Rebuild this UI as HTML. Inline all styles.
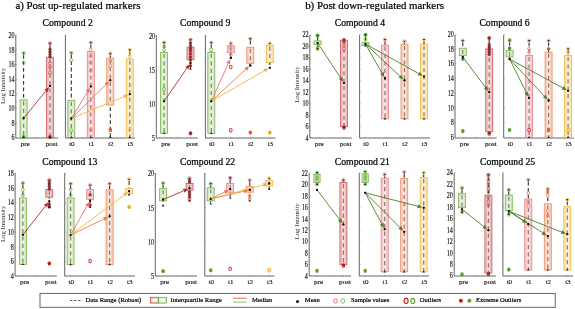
<!DOCTYPE html>
<html><head><meta charset="utf-8"><style>
html,body{margin:0;padding:0;background:#fff;width:575px;height:309px;overflow:hidden}
svg{display:block;filter:blur(0.3px)}
.tk{font-family:"Liberation Serif",serif;font-size:7.1px;fill:#1a1a1a;stroke:#1a1a1a;stroke-width:0.15px}
.ct{font-family:"Liberation Serif",serif;font-size:9.7px;fill:#000;stroke:#000;stroke-width:0.22px}
.mt{font-family:"Liberation Serif",serif;font-size:10.85px;fill:#000;stroke:#000;stroke-width:0.22px}
.tky{font-family:"Liberation Serif",serif;font-size:7.6px;fill:#1a1a1a;stroke:#1a1a1a;stroke-width:0.18px}
.yl{font-family:"Liberation Serif",serif;font-size:6.8px;fill:#333}
.lg{font-family:"Liberation Serif",serif;font-size:6.6px;fill:#000;stroke:#000;stroke-width:0.2px}
</style></head><body>
<svg width="575" height="309" viewBox="0 0 575 309">
<rect width="575" height="309" fill="#fff"/>
<line x1="15.8" y1="35.0" x2="15.8" y2="138.0" stroke="#555" stroke-width="0.9"/>
<line x1="15.8" y1="138.0" x2="58.3" y2="138.0" stroke="#555" stroke-width="0.9"/>
<line x1="15.8" y1="137.6" x2="17.0" y2="137.6" stroke="#888" stroke-width="0.6"/>
<text transform="translate(14.5,140.35) scale(0.8,1)" text-anchor="end" class="tky">6</text>
<line x1="15.8" y1="122.97" x2="17.0" y2="122.97" stroke="#888" stroke-width="0.6"/>
<text transform="translate(14.5,125.72) scale(0.8,1)" text-anchor="end" class="tky">8</text>
<line x1="15.8" y1="108.34" x2="17.0" y2="108.34" stroke="#888" stroke-width="0.6"/>
<text transform="translate(14.5,111.09) scale(0.8,1)" text-anchor="end" class="tky">10</text>
<line x1="15.8" y1="93.71" x2="17.0" y2="93.71" stroke="#888" stroke-width="0.6"/>
<text transform="translate(14.5,96.46) scale(0.8,1)" text-anchor="end" class="tky">12</text>
<line x1="15.8" y1="79.09" x2="17.0" y2="79.09" stroke="#888" stroke-width="0.6"/>
<text transform="translate(14.5,81.84) scale(0.8,1)" text-anchor="end" class="tky">14</text>
<line x1="15.8" y1="64.46" x2="17.0" y2="64.46" stroke="#888" stroke-width="0.6"/>
<text transform="translate(14.5,67.21) scale(0.8,1)" text-anchor="end" class="tky">16</text>
<line x1="15.8" y1="49.83" x2="17.0" y2="49.83" stroke="#888" stroke-width="0.6"/>
<text transform="translate(14.5,52.58) scale(0.8,1)" text-anchor="end" class="tky">18</text>
<line x1="15.8" y1="35.2" x2="17.0" y2="35.2" stroke="#888" stroke-width="0.6"/>
<text transform="translate(14.5,37.95) scale(0.8,1)" text-anchor="end" class="tky">20</text>
<line x1="23.6" y1="138.0" x2="23.6" y2="136.8" stroke="#888" stroke-width="0.6"/>
<text x="25.200000000000003" y="145.8" text-anchor="middle" class="tk">pre</text>
<line x1="50.0" y1="138.0" x2="50.0" y2="136.8" stroke="#888" stroke-width="0.6"/>
<text x="51.6" y="145.8" text-anchor="middle" class="tk">post</text>
<line x1="36.8" y1="138.0" x2="36.8" y2="136.8" stroke="#888" stroke-width="0.6"/>
<line x1="65.4" y1="35.0" x2="65.4" y2="138.0" stroke="#555" stroke-width="0.9"/>
<line x1="65.4" y1="138.0" x2="135.1" y2="138.0" stroke="#555" stroke-width="0.9"/>
<line x1="65.4" y1="137.6" x2="66.60000000000001" y2="137.6" stroke="#888" stroke-width="0.6"/>
<line x1="65.4" y1="122.97" x2="66.60000000000001" y2="122.97" stroke="#888" stroke-width="0.6"/>
<line x1="65.4" y1="108.34" x2="66.60000000000001" y2="108.34" stroke="#888" stroke-width="0.6"/>
<line x1="65.4" y1="93.71" x2="66.60000000000001" y2="93.71" stroke="#888" stroke-width="0.6"/>
<line x1="65.4" y1="79.09" x2="66.60000000000001" y2="79.09" stroke="#888" stroke-width="0.6"/>
<line x1="65.4" y1="64.46" x2="66.60000000000001" y2="64.46" stroke="#888" stroke-width="0.6"/>
<line x1="65.4" y1="49.83" x2="66.60000000000001" y2="49.83" stroke="#888" stroke-width="0.6"/>
<line x1="65.4" y1="35.2" x2="66.60000000000001" y2="35.2" stroke="#888" stroke-width="0.6"/>
<line x1="71.30000000000001" y1="138.0" x2="71.30000000000001" y2="136.8" stroke="#888" stroke-width="0.6"/>
<text x="71.9" y="145.8" text-anchor="middle" class="tk">t0</text>
<line x1="90.80000000000001" y1="138.0" x2="90.80000000000001" y2="136.8" stroke="#888" stroke-width="0.6"/>
<text x="91.4" y="145.8" text-anchor="middle" class="tk">t1</text>
<line x1="110.30000000000001" y1="138.0" x2="110.30000000000001" y2="136.8" stroke="#888" stroke-width="0.6"/>
<text x="110.9" y="145.8" text-anchor="middle" class="tk">t2</text>
<line x1="129.8" y1="138.0" x2="129.8" y2="136.8" stroke="#888" stroke-width="0.6"/>
<text x="130.4" y="145.8" text-anchor="middle" class="tk">t3</text>
<text x="42.5" y="26.3" class="ct">Compound 2</text>
<text x="5.5" y="85.9" transform="rotate(-90 5.5 85.9)" text-anchor="middle" class="yl">Log Intensity</text>
<line x1="23.6" y1="53.5" x2="23.6" y2="137.5" stroke="#2e2e2e" stroke-width="1.1" stroke-dasharray="3.8 2.7" stroke-dashoffset="-1.5"/>
<rect x="20.1" y="99.8" width="7.0" height="37.7" fill="#d6ebc6" stroke="#7cb652" stroke-width="0.85"/>
<rect x="22.3" y="101.0" width="2.6" height="35.300000000000004" fill="#eef6e6"/>
<line x1="23.6" y1="101.3" x2="23.6" y2="136.5" stroke="#6e5656" stroke-width="1.3" stroke-dasharray="4.2 3.2" opacity="0.75"/>
<ellipse cx="23.6" cy="62.6" rx="1.35" ry="1.75" fill="none" stroke="#7cb652" stroke-width="0.9"/>
<ellipse cx="23.6" cy="137" rx="1.75" ry="2.1" fill="#5a9e2c"/>
<path d="M22.3,52.6 L24.900000000000002,52.6 L23.6,54.7 Z" fill="#222"/>
<circle cx="23.6" cy="53.2" r="1.6" fill="none" stroke="#7cb652" stroke-width="0.8"/>
<path d="M22.3,138.1 L24.900000000000002,138.1 L23.6,136.0 Z" fill="#222"/>
<circle cx="23.6" cy="118.2" r="1.05" fill="#111"/>
<line x1="50.0" y1="43.6" x2="50.0" y2="137.5" stroke="#2e2e2e" stroke-width="1.1" stroke-dasharray="3.8 2.7" stroke-dashoffset="-1.5"/>
<rect x="46.5" y="57.3" width="7.0" height="80.2" fill="#eebcbc" stroke="#d45e5e" stroke-width="0.85"/>
<rect x="48.7" y="58.5" width="2.6" height="77.8" fill="#f8e0e0"/>
<line x1="50.0" y1="58.8" x2="50.0" y2="136.5" stroke="#6e5656" stroke-width="1.3" stroke-dasharray="4.2 3.2" opacity="0.75"/>
<ellipse cx="50.0" cy="63.3" rx="1.35" ry="1.75" fill="none" stroke="#d45e5e" stroke-width="0.9"/>
<ellipse cx="50.0" cy="67" rx="1.35" ry="1.75" fill="none" stroke="#d45e5e" stroke-width="0.9"/>
<ellipse cx="50.0" cy="72.8" rx="1.35" ry="1.75" fill="none" stroke="#d45e5e" stroke-width="0.9"/>
<circle cx="50.0" cy="49.5" r="1.4" fill="#b82020" stroke="#333" stroke-width="0.4"/>
<circle cx="50.0" cy="52" r="1.4" fill="#b82020" stroke="#333" stroke-width="0.4"/>
<circle cx="50.0" cy="54.5" r="1.4" fill="#b82020" stroke="#333" stroke-width="0.4"/>
<circle cx="50.0" cy="56.8" r="1.4" fill="#b82020" stroke="#333" stroke-width="0.4"/>
<ellipse cx="50.0" cy="137" rx="1.75" ry="2.1" fill="#b82020"/>
<path d="M48.7,42.7 L51.3,42.7 L50.0,44.800000000000004 Z" fill="#222"/>
<circle cx="50.0" cy="43.300000000000004" r="1.6" fill="none" stroke="#d45e5e" stroke-width="0.8"/>
<path d="M48.7,138.1 L51.3,138.1 L50.0,136.0 Z" fill="#222"/>
<circle cx="50.0" cy="86" r="1.05" fill="#111"/>
<line x1="71.30000000000001" y1="53.1" x2="71.30000000000001" y2="137.5" stroke="#2e2e2e" stroke-width="1.1" stroke-dasharray="3.8 2.7" stroke-dashoffset="-1.5"/>
<rect x="67.80000000000001" y="100.3" width="7.0" height="37.2" fill="#d6ebc6" stroke="#7cb652" stroke-width="0.85"/>
<rect x="70.00000000000001" y="101.5" width="2.6" height="34.800000000000004" fill="#eef6e6"/>
<line x1="71.30000000000001" y1="101.8" x2="71.30000000000001" y2="136.5" stroke="#6e5656" stroke-width="1.3" stroke-dasharray="4.2 3.2" opacity="0.75"/>
<ellipse cx="71.30000000000001" cy="60.4" rx="1.35" ry="1.75" fill="none" stroke="#7cb652" stroke-width="0.9"/>
<ellipse cx="71.30000000000001" cy="130.5" rx="1.35" ry="1.75" fill="none" stroke="#7cb652" stroke-width="0.9"/>
<path d="M70.00000000000001,52.2 L72.60000000000001,52.2 L71.30000000000001,54.300000000000004 Z" fill="#222"/>
<circle cx="71.30000000000001" cy="52.800000000000004" r="1.6" fill="none" stroke="#7cb652" stroke-width="0.8"/>
<path d="M70.00000000000001,138.1 L72.60000000000001,138.1 L71.30000000000001,136.0 Z" fill="#222"/>
<circle cx="71.30000000000001" cy="118.5" r="1.05" fill="#111"/>
<line x1="90.80000000000001" y1="42.9" x2="90.80000000000001" y2="137.5" stroke="#2e2e2e" stroke-width="1.1" stroke-dasharray="3.8 2.7" stroke-dashoffset="-1.5"/>
<rect x="87.30000000000001" y="51.7" width="7.0" height="85.8" fill="#f6cccc" stroke="#ee8282" stroke-width="0.85"/>
<rect x="89.50000000000001" y="52.900000000000006" width="2.6" height="83.39999999999999" fill="#fbe8e8"/>
<line x1="90.80000000000001" y1="53.2" x2="90.80000000000001" y2="136.5" stroke="#6e5656" stroke-width="1.3" stroke-dasharray="4.2 3.2" opacity="0.75"/>
<ellipse cx="90.80000000000001" cy="49.5" rx="1.35" ry="1.75" fill="none" stroke="#ee8282" stroke-width="0.9"/>
<ellipse cx="90.80000000000001" cy="56" rx="1.35" ry="1.75" fill="none" stroke="#ee8282" stroke-width="0.9"/>
<ellipse cx="90.80000000000001" cy="62.6" rx="1.35" ry="1.75" fill="none" stroke="#ee8282" stroke-width="0.9"/>
<ellipse cx="90.80000000000001" cy="70.6" rx="1.35" ry="1.75" fill="none" stroke="#ee8282" stroke-width="0.9"/>
<ellipse cx="90.80000000000001" cy="130" rx="1.35" ry="1.75" fill="none" stroke="#ee8282" stroke-width="0.9"/>
<path d="M89.50000000000001,42.0 L92.10000000000001,42.0 L90.80000000000001,44.1 Z" fill="#222"/>
<circle cx="90.80000000000001" cy="42.6" r="1.6" fill="none" stroke="#ee8282" stroke-width="0.8"/>
<path d="M89.50000000000001,138.1 L92.10000000000001,138.1 L90.80000000000001,136.0 Z" fill="#222"/>
<circle cx="90.80000000000001" cy="86.5" r="1.05" fill="#111"/>
<line x1="110.30000000000001" y1="53.8" x2="110.30000000000001" y2="137.5" stroke="#2e2e2e" stroke-width="1.1" stroke-dasharray="3.8 2.7" stroke-dashoffset="-1.5"/>
<rect x="106.80000000000001" y="58.2" width="7.0" height="46.8" fill="#f8d2c0" stroke="#f08c64" stroke-width="0.85"/>
<rect x="109.00000000000001" y="59.400000000000006" width="2.6" height="44.4" fill="#fdeae2"/>
<line x1="110.30000000000001" y1="59.7" x2="110.30000000000001" y2="104" stroke="#6e5656" stroke-width="1.3" stroke-dasharray="4.2 3.2" opacity="0.75"/>
<ellipse cx="110.30000000000001" cy="61" rx="1.35" ry="1.75" fill="none" stroke="#f08c64" stroke-width="0.9"/>
<ellipse cx="110.30000000000001" cy="66" rx="1.35" ry="1.75" fill="none" stroke="#f08c64" stroke-width="0.9"/>
<ellipse cx="110.30000000000001" cy="130" rx="1.3" ry="1.8" fill="none" stroke="#e45a22" stroke-width="1.05"/>
<path d="M109.00000000000001,52.9 L111.60000000000001,52.9 L110.30000000000001,55.0 Z" fill="#222"/>
<circle cx="110.30000000000001" cy="53.5" r="1.6" fill="none" stroke="#f08c64" stroke-width="0.8"/>
<path d="M109.00000000000001,138.1 L111.60000000000001,138.1 L110.30000000000001,136.0 Z" fill="#222"/>
<circle cx="110.30000000000001" cy="80.2" r="1.05" fill="#111"/>
<line x1="129.8" y1="50.2" x2="129.8" y2="137.5" stroke="#2e2e2e" stroke-width="1.1" stroke-dasharray="3.8 2.7" stroke-dashoffset="-1.5"/>
<rect x="126.30000000000001" y="59" width="7.0" height="78.5" fill="#fbe3ae" stroke="#f2ba48" stroke-width="0.85"/>
<rect x="128.5" y="60.2" width="2.6" height="76.1" fill="#fef3da"/>
<line x1="129.8" y1="60.5" x2="129.8" y2="136.5" stroke="#6e5656" stroke-width="1.3" stroke-dasharray="4.2 3.2" opacity="0.75"/>
<ellipse cx="129.8" cy="56" rx="1.35" ry="1.75" fill="none" stroke="#f2ba48" stroke-width="0.9"/>
<ellipse cx="129.8" cy="130" rx="1.35" ry="1.75" fill="none" stroke="#f2ba48" stroke-width="0.9"/>
<path d="M128.5,49.300000000000004 L131.10000000000002,49.300000000000004 L129.8,51.400000000000006 Z" fill="#222"/>
<circle cx="129.8" cy="49.900000000000006" r="1.6" fill="none" stroke="#f2ba48" stroke-width="0.8"/>
<path d="M128.5,138.1 L131.10000000000002,138.1 L129.8,136.0 Z" fill="#222"/>
<circle cx="129.8" cy="94.2" r="1.05" fill="#111"/>
<line x1="23.6" y1="118.2" x2="46.07" y2="90.79" stroke="#a83030" stroke-width="0.9"/>
<path d="M48.99,87.24 L47.69,92.13 L44.45,89.46 Z" fill="#a83030"/>
<line x1="71.30000000000001" y1="118.5" x2="87.57" y2="91.79" stroke="#f07070" stroke-width="0.9"/>
<path d="M89.97,87.87 L89.37,92.89 L85.78,90.70 Z" fill="#f07070"/>
<line x1="71.30000000000001" y1="118.5" x2="105.88" y2="84.54" stroke="#ef7a48" stroke-width="0.9"/>
<path d="M109.16,81.32 L107.35,86.04 L104.41,83.05 Z" fill="#ef7a48"/>
<line x1="71.30000000000001" y1="118.5" x2="124.07" y2="96.58" stroke="#f4b234" stroke-width="0.9"/>
<path d="M128.32,94.81 L124.88,98.52 L123.27,94.64 Z" fill="#f4b234"/>
<circle cx="23.6" cy="118.2" r="1.05" fill="#111"/>
<circle cx="50.0" cy="86" r="1.05" fill="#111"/>
<circle cx="71.30000000000001" cy="118.5" r="1.05" fill="#111"/>
<circle cx="90.80000000000001" cy="86.5" r="1.05" fill="#111"/>
<circle cx="110.30000000000001" cy="80.2" r="1.05" fill="#111"/>
<circle cx="129.8" cy="94.2" r="1.05" fill="#111"/>
<line x1="156.3" y1="35.0" x2="156.3" y2="138.0" stroke="#555" stroke-width="0.9"/>
<line x1="156.3" y1="138.0" x2="197.8" y2="138.0" stroke="#555" stroke-width="0.9"/>
<line x1="156.3" y1="138.0" x2="157.5" y2="138.0" stroke="#888" stroke-width="0.6"/>
<text transform="translate(155.0,140.75) scale(0.8,1)" text-anchor="end" class="tky">5</text>
<line x1="156.3" y1="103.97" x2="157.5" y2="103.97" stroke="#888" stroke-width="0.6"/>
<text transform="translate(155.0,106.72) scale(0.8,1)" text-anchor="end" class="tky">10</text>
<line x1="156.3" y1="69.93" x2="157.5" y2="69.93" stroke="#888" stroke-width="0.6"/>
<text transform="translate(155.0,72.68) scale(0.8,1)" text-anchor="end" class="tky">15</text>
<line x1="156.3" y1="35.9" x2="157.5" y2="35.9" stroke="#888" stroke-width="0.6"/>
<text transform="translate(155.0,38.65) scale(0.8,1)" text-anchor="end" class="tky">20</text>
<line x1="164.10000000000002" y1="138.0" x2="164.10000000000002" y2="136.8" stroke="#888" stroke-width="0.6"/>
<text x="165.70000000000002" y="145.8" text-anchor="middle" class="tk">pre</text>
<line x1="190.5" y1="138.0" x2="190.5" y2="136.8" stroke="#888" stroke-width="0.6"/>
<text x="192.1" y="145.8" text-anchor="middle" class="tk">post</text>
<line x1="177.3" y1="138.0" x2="177.3" y2="136.8" stroke="#888" stroke-width="0.6"/>
<line x1="205.4" y1="35.0" x2="205.4" y2="138.0" stroke="#555" stroke-width="0.9"/>
<line x1="205.4" y1="138.0" x2="275.5" y2="138.0" stroke="#555" stroke-width="0.9"/>
<line x1="205.4" y1="138.0" x2="206.6" y2="138.0" stroke="#888" stroke-width="0.6"/>
<line x1="205.4" y1="103.97" x2="206.6" y2="103.97" stroke="#888" stroke-width="0.6"/>
<line x1="205.4" y1="69.93" x2="206.6" y2="69.93" stroke="#888" stroke-width="0.6"/>
<line x1="205.4" y1="35.9" x2="206.6" y2="35.9" stroke="#888" stroke-width="0.6"/>
<line x1="211.3" y1="138.0" x2="211.3" y2="136.8" stroke="#888" stroke-width="0.6"/>
<text x="211.9" y="145.8" text-anchor="middle" class="tk">t0</text>
<line x1="230.8" y1="138.0" x2="230.8" y2="136.8" stroke="#888" stroke-width="0.6"/>
<text x="231.4" y="145.8" text-anchor="middle" class="tk">t1</text>
<line x1="250.3" y1="138.0" x2="250.3" y2="136.8" stroke="#888" stroke-width="0.6"/>
<text x="250.9" y="145.8" text-anchor="middle" class="tk">t2</text>
<line x1="269.8" y1="138.0" x2="269.8" y2="136.8" stroke="#888" stroke-width="0.6"/>
<text x="270.40000000000003" y="145.8" text-anchor="middle" class="tk">t3</text>
<text x="180" y="26.3" class="ct">Compound 9</text>
<line x1="164.10000000000002" y1="42.9" x2="164.10000000000002" y2="133.5" stroke="#2e2e2e" stroke-width="1.1" stroke-dasharray="3.8 2.7" stroke-dashoffset="-1.5"/>
<rect x="160.60000000000002" y="52.4" width="7.0" height="80.9" fill="#d6ebc6" stroke="#7cb652" stroke-width="0.85"/>
<rect x="162.8" y="53.6" width="2.6" height="78.5" fill="#eef6e6"/>
<line x1="164.10000000000002" y1="53.9" x2="164.10000000000002" y2="132.3" stroke="#6e5656" stroke-width="1.3" stroke-dasharray="4.2 3.2" opacity="0.75"/>
<ellipse cx="164.10000000000002" cy="46.6" rx="1.35" ry="1.75" fill="none" stroke="#7cb652" stroke-width="0.9"/>
<ellipse cx="164.10000000000002" cy="50.2" rx="1.35" ry="1.75" fill="none" stroke="#7cb652" stroke-width="0.9"/>
<ellipse cx="164.10000000000002" cy="89.2" rx="1.35" ry="1.75" fill="none" stroke="#7cb652" stroke-width="0.9"/>
<path d="M162.8,42.0 L165.40000000000003,42.0 L164.10000000000002,44.1 Z" fill="#222"/>
<circle cx="164.10000000000002" cy="42.6" r="1.6" fill="none" stroke="#7cb652" stroke-width="0.8"/>
<path d="M162.8,134.1 L165.40000000000003,134.1 L164.10000000000002,132.0 Z" fill="#222"/>
<circle cx="164.10000000000002" cy="101.3" r="1.05" fill="#111"/>
<line x1="190.5" y1="40" x2="190.5" y2="69.1" stroke="#2e2e2e" stroke-width="1.1" stroke-dasharray="3.8 2.7" stroke-dashoffset="-1.5"/>
<rect x="187.0" y="47.3" width="7.0" height="12.400000000000006" fill="#eebcbc" stroke="#d45e5e" stroke-width="0.85"/>
<rect x="189.2" y="48.5" width="2.6" height="10.000000000000005" fill="#f8e0e0"/>
<line x1="190.5" y1="48.8" x2="190.5" y2="58.7" stroke="#6e5656" stroke-width="1.3" stroke-dasharray="4.2 3.2" opacity="0.75"/>
<circle cx="190.5" cy="43" r="1.4" fill="#b82020" stroke="#333" stroke-width="0.4"/>
<circle cx="190.5" cy="45.8" r="1.4" fill="#b82020" stroke="#333" stroke-width="0.4"/>
<circle cx="190.5" cy="48.5" r="1.4" fill="#b82020" stroke="#333" stroke-width="0.4"/>
<circle cx="190.5" cy="51" r="1.4" fill="#b82020" stroke="#333" stroke-width="0.4"/>
<circle cx="190.5" cy="54" r="1.4" fill="#b82020" stroke="#333" stroke-width="0.4"/>
<circle cx="190.5" cy="57" r="1.4" fill="#b82020" stroke="#333" stroke-width="0.4"/>
<circle cx="190.5" cy="60" r="1.4" fill="#b82020" stroke="#333" stroke-width="0.4"/>
<circle cx="190.5" cy="66" r="1.4" fill="#b82020" stroke="#333" stroke-width="0.4"/>
<ellipse cx="190.5" cy="133.3" rx="1.75" ry="2.1" fill="#b82020"/>
<path d="M189.2,39.1 L191.8,39.1 L190.5,41.2 Z" fill="#222"/>
<circle cx="190.5" cy="39.7" r="1.6" fill="none" stroke="#d45e5e" stroke-width="0.8"/>
<path d="M189.2,69.69999999999999 L191.8,69.69999999999999 L190.5,67.6 Z" fill="#222"/>
<circle cx="190.5" cy="63" r="1.05" fill="#111"/>
<line x1="211.3" y1="42.9" x2="211.3" y2="133.5" stroke="#2e2e2e" stroke-width="1.1" stroke-dasharray="3.8 2.7" stroke-dashoffset="-1.5"/>
<rect x="207.8" y="52.4" width="7.0" height="81.1" fill="#d6ebc6" stroke="#7cb652" stroke-width="0.85"/>
<rect x="210.0" y="53.6" width="2.6" height="78.69999999999999" fill="#eef6e6"/>
<line x1="211.3" y1="53.9" x2="211.3" y2="132.5" stroke="#6e5656" stroke-width="1.3" stroke-dasharray="4.2 3.2" opacity="0.75"/>
<ellipse cx="211.3" cy="49.8" rx="1.35" ry="1.75" fill="none" stroke="#7cb652" stroke-width="0.9"/>
<path d="M210.0,42.0 L212.60000000000002,42.0 L211.3,44.1 Z" fill="#222"/>
<circle cx="211.3" cy="42.6" r="1.6" fill="none" stroke="#7cb652" stroke-width="0.8"/>
<path d="M210.0,134.1 L212.60000000000002,134.1 L211.3,132.0 Z" fill="#222"/>
<circle cx="211.3" cy="101.2" r="1.05" fill="#111"/>
<line x1="230.8" y1="43.6" x2="230.8" y2="58" stroke="#2e2e2e" stroke-width="1.1" stroke-dasharray="3.8 2.7" stroke-dashoffset="-1.5"/>
<rect x="227.3" y="45.8" width="7.0" height="6.600000000000001" fill="#f6cccc" stroke="#ee8282" stroke-width="0.85"/>
<rect x="229.5" y="47.0" width="2.6" height="4.200000000000001" fill="#fbe8e8"/>
<line x1="230.8" y1="47.3" x2="230.8" y2="51.4" stroke="#6e5656" stroke-width="1.3" stroke-dasharray="4.2 3.2" opacity="0.75"/>
<ellipse cx="230.8" cy="48" rx="1.35" ry="1.75" fill="none" stroke="#ee8282" stroke-width="0.9"/>
<ellipse cx="230.8" cy="55" rx="1.35" ry="1.75" fill="none" stroke="#ee8282" stroke-width="0.9"/>
<ellipse cx="230.8" cy="67" rx="1.3" ry="1.8" fill="none" stroke="#e03c3c" stroke-width="1.05"/>
<ellipse cx="230.8" cy="130.3" rx="1.3" ry="1.8" fill="none" stroke="#e03c3c" stroke-width="1.05"/>
<path d="M229.5,42.7 L232.10000000000002,42.7 L230.8,44.800000000000004 Z" fill="#222"/>
<circle cx="230.8" cy="43.300000000000004" r="1.6" fill="none" stroke="#ee8282" stroke-width="0.8"/>
<path d="M229.5,58.6 L232.10000000000002,58.6 L230.8,56.5 Z" fill="#222"/>
<circle cx="230.8" cy="57.9" r="1.05" fill="#111"/>
<line x1="250.3" y1="39" x2="250.3" y2="66" stroke="#2e2e2e" stroke-width="1.1" stroke-dasharray="3.8 2.7" stroke-dashoffset="-1.5"/>
<rect x="246.8" y="47.3" width="7.0" height="16.0" fill="#f8d2c0" stroke="#f08c64" stroke-width="0.85"/>
<rect x="249.0" y="48.5" width="2.6" height="13.6" fill="#fdeae2"/>
<line x1="250.3" y1="48.8" x2="250.3" y2="62.3" stroke="#6e5656" stroke-width="1.3" stroke-dasharray="4.2 3.2" opacity="0.75"/>
<ellipse cx="250.3" cy="132.6" rx="1.75" ry="2.1" fill="#e45a22"/>
<path d="M249.0,38.1 L251.60000000000002,38.1 L250.3,40.2 Z" fill="#222"/>
<circle cx="250.3" cy="38.7" r="1.6" fill="none" stroke="#f08c64" stroke-width="0.8"/>
<path d="M249.0,66.6 L251.60000000000002,66.6 L250.3,64.5 Z" fill="#222"/>
<circle cx="250.3" cy="65.2" r="1.05" fill="#111"/>
<line x1="269.8" y1="43.6" x2="269.8" y2="64" stroke="#2e2e2e" stroke-width="1.1" stroke-dasharray="3.8 2.7" stroke-dashoffset="-1.5"/>
<rect x="266.3" y="45.1" width="7.0" height="17.5" fill="#fbe3ae" stroke="#f2ba48" stroke-width="0.85"/>
<rect x="268.5" y="46.300000000000004" width="2.6" height="15.1" fill="#fef3da"/>
<line x1="269.8" y1="46.6" x2="269.8" y2="61.6" stroke="#6e5656" stroke-width="1.3" stroke-dasharray="4.2 3.2" opacity="0.75"/>
<ellipse cx="269.8" cy="132.6" rx="1.75" ry="2.1" fill="#eea612"/>
<path d="M268.5,42.7 L271.1,42.7 L269.8,44.800000000000004 Z" fill="#222"/>
<circle cx="269.8" cy="43.300000000000004" r="1.6" fill="none" stroke="#f2ba48" stroke-width="0.8"/>
<path d="M268.5,64.6 L271.1,64.6 L269.8,62.5 Z" fill="#222"/>
<circle cx="269.8" cy="67.7" r="1.05" fill="#111"/>
<line x1="164.10000000000002" y1="101.3" x2="186.98" y2="68.10" stroke="#a83030" stroke-width="0.9"/>
<path d="M189.59,64.32 L188.71,69.30 L185.25,66.91 Z" fill="#a83030"/>
<line x1="211.3" y1="101.2" x2="228.25" y2="63.55" stroke="#f07070" stroke-width="0.9"/>
<path d="M230.14,59.36 L230.17,64.42 L226.34,62.69 Z" fill="#f07070"/>
<line x1="211.3" y1="101.2" x2="245.74" y2="69.41" stroke="#ef7a48" stroke-width="0.9"/>
<path d="M249.12,66.29 L247.17,70.95 L244.32,67.86 Z" fill="#ef7a48"/>
<line x1="211.3" y1="101.2" x2="264.42" y2="70.78" stroke="#f4b234" stroke-width="0.9"/>
<path d="M268.41,68.50 L265.46,72.60 L263.38,68.96 Z" fill="#f4b234"/>
<circle cx="164.10000000000002" cy="101.3" r="1.05" fill="#111"/>
<circle cx="190.5" cy="63" r="1.05" fill="#111"/>
<circle cx="211.3" cy="101.2" r="1.05" fill="#111"/>
<circle cx="230.8" cy="57.9" r="1.05" fill="#111"/>
<circle cx="250.3" cy="65.2" r="1.05" fill="#111"/>
<circle cx="269.8" cy="67.7" r="1.05" fill="#111"/>
<line x1="309.8" y1="35.0" x2="309.8" y2="138.0" stroke="#555" stroke-width="0.9"/>
<line x1="309.8" y1="138.0" x2="351.8" y2="138.0" stroke="#555" stroke-width="0.9"/>
<line x1="309.8" y1="138.2" x2="311.0" y2="138.2" stroke="#888" stroke-width="0.6"/>
<text transform="translate(308.5,140.95) scale(0.8,1)" text-anchor="end" class="tky">4</text>
<line x1="309.8" y1="126.7" x2="311.0" y2="126.7" stroke="#888" stroke-width="0.6"/>
<text transform="translate(308.5,129.45) scale(0.8,1)" text-anchor="end" class="tky">6</text>
<line x1="309.8" y1="115.2" x2="311.0" y2="115.2" stroke="#888" stroke-width="0.6"/>
<text transform="translate(308.5,117.95) scale(0.8,1)" text-anchor="end" class="tky">8</text>
<line x1="309.8" y1="103.7" x2="311.0" y2="103.7" stroke="#888" stroke-width="0.6"/>
<text transform="translate(308.5,106.45) scale(0.8,1)" text-anchor="end" class="tky">10</text>
<line x1="309.8" y1="92.2" x2="311.0" y2="92.2" stroke="#888" stroke-width="0.6"/>
<text transform="translate(308.5,94.95) scale(0.8,1)" text-anchor="end" class="tky">12</text>
<line x1="309.8" y1="80.7" x2="311.0" y2="80.7" stroke="#888" stroke-width="0.6"/>
<text transform="translate(308.5,83.45) scale(0.8,1)" text-anchor="end" class="tky">14</text>
<line x1="309.8" y1="69.2" x2="311.0" y2="69.2" stroke="#888" stroke-width="0.6"/>
<text transform="translate(308.5,71.95) scale(0.8,1)" text-anchor="end" class="tky">16</text>
<line x1="309.8" y1="57.7" x2="311.0" y2="57.7" stroke="#888" stroke-width="0.6"/>
<text transform="translate(308.5,60.45) scale(0.8,1)" text-anchor="end" class="tky">18</text>
<line x1="309.8" y1="46.2" x2="311.0" y2="46.2" stroke="#888" stroke-width="0.6"/>
<text transform="translate(308.5,48.95) scale(0.8,1)" text-anchor="end" class="tky">20</text>
<line x1="309.8" y1="34.7" x2="311.0" y2="34.7" stroke="#888" stroke-width="0.6"/>
<text transform="translate(308.5,37.45) scale(0.8,1)" text-anchor="end" class="tky">22</text>
<line x1="317.6" y1="138.0" x2="317.6" y2="136.8" stroke="#888" stroke-width="0.6"/>
<text x="319.20000000000005" y="145.8" text-anchor="middle" class="tk">pre</text>
<line x1="344.0" y1="138.0" x2="344.0" y2="136.8" stroke="#888" stroke-width="0.6"/>
<text x="345.6" y="145.8" text-anchor="middle" class="tk">post</text>
<line x1="330.8" y1="138.0" x2="330.8" y2="136.8" stroke="#888" stroke-width="0.6"/>
<line x1="359.6" y1="35.0" x2="359.6" y2="138.0" stroke="#555" stroke-width="0.9"/>
<line x1="359.6" y1="138.0" x2="429.8" y2="138.0" stroke="#555" stroke-width="0.9"/>
<line x1="359.6" y1="138.2" x2="360.8" y2="138.2" stroke="#888" stroke-width="0.6"/>
<line x1="359.6" y1="126.7" x2="360.8" y2="126.7" stroke="#888" stroke-width="0.6"/>
<line x1="359.6" y1="115.2" x2="360.8" y2="115.2" stroke="#888" stroke-width="0.6"/>
<line x1="359.6" y1="103.7" x2="360.8" y2="103.7" stroke="#888" stroke-width="0.6"/>
<line x1="359.6" y1="92.2" x2="360.8" y2="92.2" stroke="#888" stroke-width="0.6"/>
<line x1="359.6" y1="80.7" x2="360.8" y2="80.7" stroke="#888" stroke-width="0.6"/>
<line x1="359.6" y1="69.2" x2="360.8" y2="69.2" stroke="#888" stroke-width="0.6"/>
<line x1="359.6" y1="57.7" x2="360.8" y2="57.7" stroke="#888" stroke-width="0.6"/>
<line x1="359.6" y1="46.2" x2="360.8" y2="46.2" stroke="#888" stroke-width="0.6"/>
<line x1="359.6" y1="34.7" x2="360.8" y2="34.7" stroke="#888" stroke-width="0.6"/>
<line x1="365.5" y1="138.0" x2="365.5" y2="136.8" stroke="#888" stroke-width="0.6"/>
<text x="366.1" y="145.8" text-anchor="middle" class="tk">t0</text>
<line x1="385.0" y1="138.0" x2="385.0" y2="136.8" stroke="#888" stroke-width="0.6"/>
<text x="385.6" y="145.8" text-anchor="middle" class="tk">t1</text>
<line x1="404.5" y1="138.0" x2="404.5" y2="136.8" stroke="#888" stroke-width="0.6"/>
<text x="405.1" y="145.8" text-anchor="middle" class="tk">t2</text>
<line x1="424.0" y1="138.0" x2="424.0" y2="136.8" stroke="#888" stroke-width="0.6"/>
<text x="424.6" y="145.8" text-anchor="middle" class="tk">t3</text>
<text x="334.7" y="26.3" class="ct">Compound 4</text>
<text x="299.5" y="84.60000000000001" transform="rotate(-90 299.5 84.60000000000001)" text-anchor="middle" class="yl">Log Intensity</text>
<line x1="317.6" y1="35.8" x2="317.6" y2="48.9" stroke="#2e2e2e" stroke-width="1.1" stroke-dasharray="3.8 2.7" stroke-dashoffset="-1.5"/>
<rect x="314.1" y="40.9" width="7.0" height="3.700000000000003" fill="#d6ebc6" stroke="#7cb652" stroke-width="0.85"/>
<rect x="316.3" y="42.1" width="2.6" height="1.300000000000003" fill="#eef6e6"/>
<line x1="317.6" y1="42.4" x2="317.6" y2="43.6" stroke="#6e5656" stroke-width="1.3" stroke-dasharray="4.2 3.2" opacity="0.75"/>
<ellipse cx="317.6" cy="47.5" rx="1.35" ry="1.75" fill="none" stroke="#7cb652" stroke-width="0.9"/>
<ellipse cx="317.6" cy="48.9" rx="1.35" ry="1.75" fill="none" stroke="#7cb652" stroke-width="0.9"/>
<ellipse cx="317.6" cy="35.8" rx="1.75" ry="2.1" fill="#5a9e2c"/>
<path d="M316.3,34.9 L318.90000000000003,34.9 L317.6,37.0 Z" fill="#222"/>
<circle cx="317.6" cy="35.5" r="1.6" fill="none" stroke="#7cb652" stroke-width="0.8"/>
<path d="M316.3,49.5 L318.90000000000003,49.5 L317.6,47.4 Z" fill="#222"/>
<circle cx="317.6" cy="43" r="1.05" fill="#111"/>
<line x1="344.0" y1="40" x2="344.0" y2="127.6" stroke="#2e2e2e" stroke-width="1.1" stroke-dasharray="3.8 2.7" stroke-dashoffset="-1.5"/>
<rect x="340.5" y="40.2" width="7.0" height="86.39999999999999" fill="#eebcbc" stroke="#d45e5e" stroke-width="0.85"/>
<rect x="342.7" y="41.400000000000006" width="2.6" height="83.99999999999999" fill="#f8e0e0"/>
<line x1="344.0" y1="41.7" x2="344.0" y2="125.6" stroke="#6e5656" stroke-width="1.3" stroke-dasharray="4.2 3.2" opacity="0.75"/>
<ellipse cx="344.0" cy="46" rx="1.35" ry="1.75" fill="none" stroke="#d45e5e" stroke-width="0.9"/>
<ellipse cx="344.0" cy="48.9" rx="1.35" ry="1.75" fill="none" stroke="#d45e5e" stroke-width="0.9"/>
<circle cx="344.0" cy="41.5" r="1.4" fill="#b82020" stroke="#333" stroke-width="0.4"/>
<ellipse cx="344.0" cy="127.6" rx="1.3" ry="1.8" fill="none" stroke="#b82020" stroke-width="1.05"/>
<path d="M342.7,39.1 L345.3,39.1 L344.0,41.2 Z" fill="#222"/>
<circle cx="344.0" cy="39.7" r="1.6" fill="none" stroke="#d45e5e" stroke-width="0.8"/>
<path d="M342.7,128.2 L345.3,128.2 L344.0,126.1 Z" fill="#222"/>
<circle cx="344.0" cy="83" r="1.05" fill="#111"/>
<line x1="365.5" y1="35.1" x2="365.5" y2="46" stroke="#2e2e2e" stroke-width="1.1" stroke-dasharray="3.8 2.7" stroke-dashoffset="-1.5"/>
<rect x="362.0" y="42.4" width="7.0" height="3.3000000000000043" fill="#d6ebc6" stroke="#7cb652" stroke-width="0.85"/>
<rect x="364.2" y="43.6" width="2.6" height="0.9000000000000044" fill="#eef6e6"/>
<line x1="365.5" y1="43.9" x2="365.5" y2="44.7" stroke="#6e5656" stroke-width="1.3" stroke-dasharray="4.2 3.2" opacity="0.75"/>
<ellipse cx="365.5" cy="39.5" rx="1.35" ry="1.75" fill="none" stroke="#7cb652" stroke-width="0.9"/>
<ellipse cx="365.5" cy="35.1" rx="1.75" ry="2.1" fill="#5a9e2c"/>
<path d="M364.2,34.2 L366.8,34.2 L365.5,36.300000000000004 Z" fill="#222"/>
<circle cx="365.5" cy="34.800000000000004" r="1.6" fill="none" stroke="#7cb652" stroke-width="0.8"/>
<path d="M364.2,46.6 L366.8,46.6 L365.5,44.5 Z" fill="#222"/>
<circle cx="365.5" cy="44" r="1.05" fill="#111"/>
<line x1="385.0" y1="39.8" x2="385.0" y2="118.8" stroke="#2e2e2e" stroke-width="1.1" stroke-dasharray="3.8 2.7" stroke-dashoffset="-1.5"/>
<rect x="381.5" y="45.1" width="7.0" height="73.69999999999999" fill="#f6cccc" stroke="#ee8282" stroke-width="0.85"/>
<rect x="383.7" y="46.300000000000004" width="2.6" height="71.29999999999998" fill="#fbe8e8"/>
<line x1="385.0" y1="46.6" x2="385.0" y2="117.8" stroke="#6e5656" stroke-width="1.3" stroke-dasharray="4.2 3.2" opacity="0.75"/>
<path d="M383.7,38.9 L386.3,38.9 L385.0,41.0 Z" fill="#222"/>
<circle cx="385.0" cy="39.5" r="1.6" fill="none" stroke="#ee8282" stroke-width="0.8"/>
<path d="M383.7,119.39999999999999 L386.3,119.39999999999999 L385.0,117.3 Z" fill="#222"/>
<circle cx="385.0" cy="78.4" r="1.05" fill="#111"/>
<line x1="404.5" y1="41.6" x2="404.5" y2="118.8" stroke="#2e2e2e" stroke-width="1.1" stroke-dasharray="3.8 2.7" stroke-dashoffset="-1.5"/>
<rect x="401.0" y="44.2" width="7.0" height="74.6" fill="#f8d2c0" stroke="#f08c64" stroke-width="0.85"/>
<rect x="403.2" y="45.400000000000006" width="2.6" height="72.19999999999999" fill="#fdeae2"/>
<line x1="404.5" y1="45.7" x2="404.5" y2="117.8" stroke="#6e5656" stroke-width="1.3" stroke-dasharray="4.2 3.2" opacity="0.75"/>
<path d="M403.2,40.7 L405.8,40.7 L404.5,42.800000000000004 Z" fill="#222"/>
<circle cx="404.5" cy="41.300000000000004" r="1.6" fill="none" stroke="#f08c64" stroke-width="0.8"/>
<path d="M403.2,119.39999999999999 L405.8,119.39999999999999 L404.5,117.3 Z" fill="#222"/>
<circle cx="404.5" cy="80.4" r="1.05" fill="#111"/>
<line x1="424.0" y1="39.8" x2="424.0" y2="118.8" stroke="#2e2e2e" stroke-width="1.1" stroke-dasharray="3.8 2.7" stroke-dashoffset="-1.5"/>
<rect x="420.5" y="44.2" width="7.0" height="74.6" fill="#fbe3ae" stroke="#f2ba48" stroke-width="0.85"/>
<rect x="422.7" y="45.400000000000006" width="2.6" height="72.19999999999999" fill="#fef3da"/>
<line x1="424.0" y1="45.7" x2="424.0" y2="117.8" stroke="#6e5656" stroke-width="1.3" stroke-dasharray="4.2 3.2" opacity="0.75"/>
<path d="M422.7,38.9 L425.3,38.9 L424.0,41.0 Z" fill="#222"/>
<circle cx="424.0" cy="39.5" r="1.6" fill="none" stroke="#f2ba48" stroke-width="0.8"/>
<path d="M422.7,119.39999999999999 L425.3,119.39999999999999 L424.0,117.3 Z" fill="#222"/>
<circle cx="424.0" cy="76.5" r="1.05" fill="#111"/>
<line x1="317.6" y1="43" x2="340.58" y2="77.83" stroke="#4d7d2d" stroke-width="0.9"/>
<path d="M343.12,81.66 L338.83,78.98 L342.34,76.67 Z" fill="#4d7d2d"/>
<line x1="365.5" y1="44" x2="381.94" y2="73.01" stroke="#4d7d2d" stroke-width="0.9"/>
<path d="M384.21,77.01 L380.12,74.04 L383.77,71.97 Z" fill="#4d7d2d"/>
<line x1="365.5" y1="44" x2="399.97" y2="76.17" stroke="#4d7d2d" stroke-width="0.9"/>
<path d="M403.33,79.31 L398.53,77.70 L401.40,74.63 Z" fill="#4d7d2d"/>
<line x1="365.5" y1="44" x2="418.58" y2="73.49" stroke="#4d7d2d" stroke-width="0.9"/>
<path d="M422.60,75.72 L417.56,75.32 L419.60,71.65 Z" fill="#4d7d2d"/>
<circle cx="317.6" cy="43" r="1.05" fill="#111"/>
<circle cx="344.0" cy="83" r="1.05" fill="#111"/>
<circle cx="365.5" cy="44" r="1.05" fill="#111"/>
<circle cx="385.0" cy="78.4" r="1.05" fill="#111"/>
<circle cx="404.5" cy="80.4" r="1.05" fill="#111"/>
<circle cx="424.0" cy="76.5" r="1.05" fill="#111"/>
<line x1="455" y1="35.0" x2="455" y2="138.0" stroke="#555" stroke-width="0.9"/>
<line x1="455" y1="138.0" x2="496.7" y2="138.0" stroke="#555" stroke-width="0.9"/>
<line x1="455" y1="137.3" x2="456.2" y2="137.3" stroke="#888" stroke-width="0.6"/>
<text transform="translate(453.7,140.05) scale(0.8,1)" text-anchor="end" class="tky">6</text>
<line x1="455" y1="122.59" x2="456.2" y2="122.59" stroke="#888" stroke-width="0.6"/>
<text transform="translate(453.7,125.34) scale(0.8,1)" text-anchor="end" class="tky">8</text>
<line x1="455" y1="107.87" x2="456.2" y2="107.87" stroke="#888" stroke-width="0.6"/>
<text transform="translate(453.7,110.62) scale(0.8,1)" text-anchor="end" class="tky">10</text>
<line x1="455" y1="93.16" x2="456.2" y2="93.16" stroke="#888" stroke-width="0.6"/>
<text transform="translate(453.7,95.91) scale(0.8,1)" text-anchor="end" class="tky">12</text>
<line x1="455" y1="78.44" x2="456.2" y2="78.44" stroke="#888" stroke-width="0.6"/>
<text transform="translate(453.7,81.19) scale(0.8,1)" text-anchor="end" class="tky">14</text>
<line x1="455" y1="63.73" x2="456.2" y2="63.73" stroke="#888" stroke-width="0.6"/>
<text transform="translate(453.7,66.47999999999999) scale(0.8,1)" text-anchor="end" class="tky">16</text>
<line x1="455" y1="49.01" x2="456.2" y2="49.01" stroke="#888" stroke-width="0.6"/>
<text transform="translate(453.7,51.76) scale(0.8,1)" text-anchor="end" class="tky">18</text>
<line x1="455" y1="34.3" x2="456.2" y2="34.3" stroke="#888" stroke-width="0.6"/>
<text transform="translate(453.7,37.05) scale(0.8,1)" text-anchor="end" class="tky">20</text>
<line x1="462.8" y1="138.0" x2="462.8" y2="136.8" stroke="#888" stroke-width="0.6"/>
<text x="464.40000000000003" y="145.8" text-anchor="middle" class="tk">pre</text>
<line x1="489.2" y1="138.0" x2="489.2" y2="136.8" stroke="#888" stroke-width="0.6"/>
<text x="490.8" y="145.8" text-anchor="middle" class="tk">post</text>
<line x1="476.0" y1="138.0" x2="476.0" y2="136.8" stroke="#888" stroke-width="0.6"/>
<line x1="503.7" y1="35.0" x2="503.7" y2="138.0" stroke="#555" stroke-width="0.9"/>
<line x1="503.7" y1="138.0" x2="573.8" y2="138.0" stroke="#555" stroke-width="0.9"/>
<line x1="503.7" y1="137.3" x2="504.9" y2="137.3" stroke="#888" stroke-width="0.6"/>
<line x1="503.7" y1="122.59" x2="504.9" y2="122.59" stroke="#888" stroke-width="0.6"/>
<line x1="503.7" y1="107.87" x2="504.9" y2="107.87" stroke="#888" stroke-width="0.6"/>
<line x1="503.7" y1="93.16" x2="504.9" y2="93.16" stroke="#888" stroke-width="0.6"/>
<line x1="503.7" y1="78.44" x2="504.9" y2="78.44" stroke="#888" stroke-width="0.6"/>
<line x1="503.7" y1="63.73" x2="504.9" y2="63.73" stroke="#888" stroke-width="0.6"/>
<line x1="503.7" y1="49.01" x2="504.9" y2="49.01" stroke="#888" stroke-width="0.6"/>
<line x1="503.7" y1="34.3" x2="504.9" y2="34.3" stroke="#888" stroke-width="0.6"/>
<line x1="509.59999999999997" y1="138.0" x2="509.59999999999997" y2="136.8" stroke="#888" stroke-width="0.6"/>
<text x="510.2" y="145.8" text-anchor="middle" class="tk">t0</text>
<line x1="529.0999999999999" y1="138.0" x2="529.0999999999999" y2="136.8" stroke="#888" stroke-width="0.6"/>
<text x="529.6999999999999" y="145.8" text-anchor="middle" class="tk">t1</text>
<line x1="548.5999999999999" y1="138.0" x2="548.5999999999999" y2="136.8" stroke="#888" stroke-width="0.6"/>
<text x="549.1999999999999" y="145.8" text-anchor="middle" class="tk">t2</text>
<line x1="568.0999999999999" y1="138.0" x2="568.0999999999999" y2="136.8" stroke="#888" stroke-width="0.6"/>
<text x="568.6999999999999" y="145.8" text-anchor="middle" class="tk">t3</text>
<text x="479.4" y="26.3" class="ct">Compound 6</text>
<line x1="462.8" y1="40.9" x2="462.8" y2="59.1" stroke="#2e2e2e" stroke-width="1.1" stroke-dasharray="3.8 2.7" stroke-dashoffset="-1.5"/>
<rect x="459.3" y="48.2" width="7.0" height="7.299999999999997" fill="#d6ebc6" stroke="#7cb652" stroke-width="0.85"/>
<rect x="461.5" y="49.400000000000006" width="2.6" height="4.899999999999997" fill="#eef6e6"/>
<line x1="462.8" y1="49.7" x2="462.8" y2="54.5" stroke="#6e5656" stroke-width="1.3" stroke-dasharray="4.2 3.2" opacity="0.75"/>
<ellipse cx="462.8" cy="59.1" rx="1.35" ry="1.75" fill="none" stroke="#7cb652" stroke-width="0.9"/>
<ellipse cx="462.8" cy="131.2" rx="1.75" ry="2.1" fill="#5a9e2c"/>
<path d="M461.5,40.0 L464.1,40.0 L462.8,42.1 Z" fill="#222"/>
<circle cx="462.8" cy="40.6" r="1.6" fill="none" stroke="#7cb652" stroke-width="0.8"/>
<path d="M461.5,59.7 L464.1,59.7 L462.8,57.6 Z" fill="#222"/>
<circle cx="462.8" cy="57" r="1.05" fill="#111"/>
<line x1="489.2" y1="38" x2="489.2" y2="133.5" stroke="#2e2e2e" stroke-width="1.1" stroke-dasharray="3.8 2.7" stroke-dashoffset="-1.5"/>
<rect x="485.7" y="48.9" width="7.0" height="82.9" fill="#eebcbc" stroke="#d45e5e" stroke-width="0.85"/>
<rect x="487.9" y="50.1" width="2.6" height="80.5" fill="#f8e0e0"/>
<line x1="489.2" y1="50.4" x2="489.2" y2="130.8" stroke="#6e5656" stroke-width="1.3" stroke-dasharray="4.2 3.2" opacity="0.75"/>
<circle cx="489.2" cy="38.5" r="1.4" fill="#b82020" stroke="#333" stroke-width="0.4"/>
<circle cx="489.2" cy="44.6" r="1.4" fill="#b82020" stroke="#333" stroke-width="0.4"/>
<circle cx="489.2" cy="47" r="1.4" fill="#b82020" stroke="#333" stroke-width="0.4"/>
<circle cx="489.2" cy="49.5" r="1.4" fill="#b82020" stroke="#333" stroke-width="0.4"/>
<circle cx="489.2" cy="52" r="1.4" fill="#b82020" stroke="#333" stroke-width="0.4"/>
<circle cx="489.2" cy="54.5" r="1.4" fill="#b82020" stroke="#333" stroke-width="0.4"/>
<ellipse cx="489.2" cy="133.5" rx="1.3" ry="1.8" fill="none" stroke="#b82020" stroke-width="1.05"/>
<path d="M487.9,37.1 L490.5,37.1 L489.2,39.2 Z" fill="#222"/>
<circle cx="489.2" cy="37.7" r="1.6" fill="none" stroke="#d45e5e" stroke-width="0.8"/>
<path d="M487.9,134.1 L490.5,134.1 L489.2,132.0 Z" fill="#222"/>
<circle cx="489.2" cy="92.3" r="1.05" fill="#111"/>
<line x1="509.59999999999997" y1="40.5" x2="509.59999999999997" y2="59" stroke="#2e2e2e" stroke-width="1.1" stroke-dasharray="3.8 2.7" stroke-dashoffset="-1.5"/>
<rect x="506.09999999999997" y="50.4" width="7.0" height="6.5" fill="#d6ebc6" stroke="#7cb652" stroke-width="0.85"/>
<rect x="508.29999999999995" y="51.6" width="2.6" height="4.1" fill="#eef6e6"/>
<line x1="509.59999999999997" y1="51.9" x2="509.59999999999997" y2="55.9" stroke="#6e5656" stroke-width="1.3" stroke-dasharray="4.2 3.2" opacity="0.75"/>
<ellipse cx="509.59999999999997" cy="40.5" rx="1.35" ry="1.75" fill="none" stroke="#7cb652" stroke-width="0.9"/>
<circle cx="509.59999999999997" cy="48.2" r="1.4" fill="#5a9e2c" stroke="#333" stroke-width="0.4"/>
<ellipse cx="509.59999999999997" cy="130" rx="1.75" ry="2.1" fill="#5a9e2c"/>
<path d="M508.29999999999995,39.6 L510.9,39.6 L509.59999999999997,41.7 Z" fill="#222"/>
<circle cx="509.59999999999997" cy="40.2" r="1.6" fill="none" stroke="#7cb652" stroke-width="0.8"/>
<path d="M508.29999999999995,59.6 L510.9,59.6 L509.59999999999997,57.5 Z" fill="#222"/>
<circle cx="509.59999999999997" cy="59.1" r="1.05" fill="#111"/>
<line x1="529.0999999999999" y1="40.9" x2="529.0999999999999" y2="137.4" stroke="#2e2e2e" stroke-width="1.1" stroke-dasharray="3.8 2.7" stroke-dashoffset="-1.5"/>
<rect x="525.5999999999999" y="55.5" width="7.0" height="81.9" fill="#f6cccc" stroke="#ee8282" stroke-width="0.85"/>
<rect x="527.8" y="56.7" width="2.6" height="79.5" fill="#fbe8e8"/>
<line x1="529.0999999999999" y1="57.0" x2="529.0999999999999" y2="136.4" stroke="#6e5656" stroke-width="1.3" stroke-dasharray="4.2 3.2" opacity="0.75"/>
<ellipse cx="529.0999999999999" cy="48.9" rx="1.35" ry="1.75" fill="none" stroke="#ee8282" stroke-width="0.9"/>
<ellipse cx="529.0999999999999" cy="52.6" rx="1.35" ry="1.75" fill="none" stroke="#ee8282" stroke-width="0.9"/>
<ellipse cx="529.0999999999999" cy="130" rx="1.3" ry="1.8" fill="none" stroke="#e03c3c" stroke-width="1.05"/>
<path d="M527.8,40.0 L530.3999999999999,40.0 L529.0999999999999,42.1 Z" fill="#222"/>
<circle cx="529.0999999999999" cy="40.6" r="1.6" fill="none" stroke="#ee8282" stroke-width="0.8"/>
<path d="M527.8,138.0 L530.3999999999999,138.0 L529.0999999999999,135.9 Z" fill="#222"/>
<circle cx="529.0999999999999" cy="98.1" r="1.05" fill="#111"/>
<line x1="548.5999999999999" y1="40.9" x2="548.5999999999999" y2="137.4" stroke="#2e2e2e" stroke-width="1.1" stroke-dasharray="3.8 2.7" stroke-dashoffset="-1.5"/>
<rect x="545.0999999999999" y="52.1" width="7.0" height="85.30000000000001" fill="#f8d2c0" stroke="#f08c64" stroke-width="0.85"/>
<rect x="547.3" y="53.300000000000004" width="2.6" height="82.9" fill="#fdeae2"/>
<line x1="548.5999999999999" y1="53.6" x2="548.5999999999999" y2="136.4" stroke="#6e5656" stroke-width="1.3" stroke-dasharray="4.2 3.2" opacity="0.75"/>
<circle cx="548.5999999999999" cy="48.9" r="1.4" fill="#e45a22" stroke="#333" stroke-width="0.4"/>
<ellipse cx="548.5999999999999" cy="130" rx="1.3" ry="1.8" fill="none" stroke="#e45a22" stroke-width="1.05"/>
<path d="M547.3,40.0 L549.8999999999999,40.0 L548.5999999999999,42.1 Z" fill="#222"/>
<circle cx="548.5999999999999" cy="40.6" r="1.6" fill="none" stroke="#f08c64" stroke-width="0.8"/>
<path d="M547.3,138.0 L549.8999999999999,138.0 L548.5999999999999,135.9 Z" fill="#222"/>
<circle cx="548.5999999999999" cy="100.6" r="1.05" fill="#111"/>
<line x1="568.0999999999999" y1="49.2" x2="568.0999999999999" y2="137.4" stroke="#2e2e2e" stroke-width="1.1" stroke-dasharray="3.8 2.7" stroke-dashoffset="-1.5"/>
<rect x="564.5999999999999" y="55.5" width="7.0" height="81.9" fill="#fbe3ae" stroke="#f2ba48" stroke-width="0.85"/>
<rect x="566.8" y="56.7" width="2.6" height="79.5" fill="#fef3da"/>
<line x1="568.0999999999999" y1="57.0" x2="568.0999999999999" y2="136.4" stroke="#6e5656" stroke-width="1.3" stroke-dasharray="4.2 3.2" opacity="0.75"/>
<ellipse cx="568.0999999999999" cy="51.8" rx="1.35" ry="1.75" fill="none" stroke="#f2ba48" stroke-width="0.9"/>
<ellipse cx="568.0999999999999" cy="130" rx="1.3" ry="1.8" fill="none" stroke="#eea612" stroke-width="1.05"/>
<path d="M566.8,48.300000000000004 L569.3999999999999,48.300000000000004 L568.0999999999999,50.400000000000006 Z" fill="#222"/>
<circle cx="568.0999999999999" cy="48.900000000000006" r="1.6" fill="none" stroke="#f2ba48" stroke-width="0.8"/>
<path d="M566.8,138.0 L569.3999999999999,138.0 L568.0999999999999,135.9 Z" fill="#222"/>
<circle cx="568.0999999999999" cy="90.8" r="1.05" fill="#111"/>
<line x1="462.8" y1="57" x2="485.49" y2="87.33" stroke="#4d7d2d" stroke-width="0.9"/>
<path d="M488.24,91.02 L483.81,88.59 L487.17,86.08 Z" fill="#4d7d2d"/>
<line x1="509.59999999999997" y1="59.1" x2="526.33" y2="92.55" stroke="#4d7d2d" stroke-width="0.9"/>
<path d="M528.38,96.67 L524.45,93.49 L528.21,91.62 Z" fill="#4d7d2d"/>
<line x1="509.59999999999997" y1="59.1" x2="544.35" y2="96.08" stroke="#4d7d2d" stroke-width="0.9"/>
<path d="M547.50,99.43 L542.82,97.52 L545.88,94.64 Z" fill="#4d7d2d"/>
<line x1="509.59999999999997" y1="59.1" x2="562.65" y2="87.85" stroke="#4d7d2d" stroke-width="0.9"/>
<path d="M566.69,90.04 L561.65,89.69 L563.65,86.00 Z" fill="#4d7d2d"/>
<circle cx="462.8" cy="57" r="1.05" fill="#111"/>
<circle cx="489.2" cy="92.3" r="1.05" fill="#111"/>
<circle cx="509.59999999999997" cy="59.1" r="1.05" fill="#111"/>
<circle cx="529.0999999999999" cy="98.1" r="1.05" fill="#111"/>
<circle cx="548.5999999999999" cy="100.6" r="1.05" fill="#111"/>
<circle cx="568.0999999999999" cy="90.8" r="1.05" fill="#111"/>
<line x1="15.1" y1="173.0" x2="15.1" y2="276.0" stroke="#555" stroke-width="0.9"/>
<line x1="15.1" y1="276.0" x2="56.8" y2="276.0" stroke="#555" stroke-width="0.9"/>
<line x1="15.1" y1="276.2" x2="16.3" y2="276.2" stroke="#888" stroke-width="0.6"/>
<text transform="translate(13.799999999999999,278.95) scale(0.8,1)" text-anchor="end" class="tky">4</text>
<line x1="15.1" y1="261.5" x2="16.3" y2="261.5" stroke="#888" stroke-width="0.6"/>
<text transform="translate(13.799999999999999,264.25) scale(0.8,1)" text-anchor="end" class="tky">6</text>
<line x1="15.1" y1="246.8" x2="16.3" y2="246.8" stroke="#888" stroke-width="0.6"/>
<text transform="translate(13.799999999999999,249.55) scale(0.8,1)" text-anchor="end" class="tky">8</text>
<line x1="15.1" y1="232.1" x2="16.3" y2="232.1" stroke="#888" stroke-width="0.6"/>
<text transform="translate(13.799999999999999,234.85) scale(0.8,1)" text-anchor="end" class="tky">10</text>
<line x1="15.1" y1="217.4" x2="16.3" y2="217.4" stroke="#888" stroke-width="0.6"/>
<text transform="translate(13.799999999999999,220.15) scale(0.8,1)" text-anchor="end" class="tky">12</text>
<line x1="15.1" y1="202.7" x2="16.3" y2="202.7" stroke="#888" stroke-width="0.6"/>
<text transform="translate(13.799999999999999,205.45) scale(0.8,1)" text-anchor="end" class="tky">14</text>
<line x1="15.1" y1="188.0" x2="16.3" y2="188.0" stroke="#888" stroke-width="0.6"/>
<text transform="translate(13.799999999999999,190.75) scale(0.8,1)" text-anchor="end" class="tky">16</text>
<line x1="15.1" y1="173.3" x2="16.3" y2="173.3" stroke="#888" stroke-width="0.6"/>
<text transform="translate(13.799999999999999,176.05) scale(0.8,1)" text-anchor="end" class="tky">18</text>
<line x1="22.9" y1="276.0" x2="22.9" y2="274.8" stroke="#888" stroke-width="0.6"/>
<text x="24.5" y="283.8" text-anchor="middle" class="tk">pre</text>
<line x1="49.300000000000004" y1="276.0" x2="49.300000000000004" y2="274.8" stroke="#888" stroke-width="0.6"/>
<text x="50.900000000000006" y="283.8" text-anchor="middle" class="tk">post</text>
<line x1="36.1" y1="276.0" x2="36.1" y2="274.8" stroke="#888" stroke-width="0.6"/>
<line x1="64.7" y1="173.0" x2="64.7" y2="276.0" stroke="#555" stroke-width="0.9"/>
<line x1="64.7" y1="276.0" x2="134.8" y2="276.0" stroke="#555" stroke-width="0.9"/>
<line x1="64.7" y1="276.2" x2="65.9" y2="276.2" stroke="#888" stroke-width="0.6"/>
<line x1="64.7" y1="261.5" x2="65.9" y2="261.5" stroke="#888" stroke-width="0.6"/>
<line x1="64.7" y1="246.8" x2="65.9" y2="246.8" stroke="#888" stroke-width="0.6"/>
<line x1="64.7" y1="232.1" x2="65.9" y2="232.1" stroke="#888" stroke-width="0.6"/>
<line x1="64.7" y1="217.4" x2="65.9" y2="217.4" stroke="#888" stroke-width="0.6"/>
<line x1="64.7" y1="202.7" x2="65.9" y2="202.7" stroke="#888" stroke-width="0.6"/>
<line x1="64.7" y1="188.0" x2="65.9" y2="188.0" stroke="#888" stroke-width="0.6"/>
<line x1="64.7" y1="173.3" x2="65.9" y2="173.3" stroke="#888" stroke-width="0.6"/>
<line x1="70.60000000000001" y1="276.0" x2="70.60000000000001" y2="274.8" stroke="#888" stroke-width="0.6"/>
<text x="71.2" y="283.8" text-anchor="middle" class="tk">t0</text>
<line x1="90.10000000000001" y1="276.0" x2="90.10000000000001" y2="274.8" stroke="#888" stroke-width="0.6"/>
<text x="90.7" y="283.8" text-anchor="middle" class="tk">t1</text>
<line x1="109.60000000000001" y1="276.0" x2="109.60000000000001" y2="274.8" stroke="#888" stroke-width="0.6"/>
<text x="110.2" y="283.8" text-anchor="middle" class="tk">t2</text>
<line x1="129.10000000000002" y1="276.0" x2="129.10000000000002" y2="274.8" stroke="#888" stroke-width="0.6"/>
<text x="129.70000000000002" y="283.8" text-anchor="middle" class="tk">t3</text>
<text x="42.2" y="164.8" class="ct">Compound 13</text>
<text x="4.799999999999999" y="223.9" transform="rotate(-90 4.799999999999999 223.9)" text-anchor="middle" class="yl">Log Intensity</text>
<line x1="22.9" y1="183.3" x2="22.9" y2="264.5" stroke="#2e2e2e" stroke-width="1.1" stroke-dasharray="3.8 2.7" stroke-dashoffset="-1.5"/>
<rect x="19.4" y="197.9" width="7.0" height="66.6" fill="#d6ebc6" stroke="#7cb652" stroke-width="0.85"/>
<rect x="21.599999999999998" y="199.1" width="2.6" height="64.19999999999999" fill="#eef6e6"/>
<line x1="22.9" y1="199.4" x2="22.9" y2="263.5" stroke="#6e5656" stroke-width="1.3" stroke-dasharray="4.2 3.2" opacity="0.75"/>
<ellipse cx="22.9" cy="189.8" rx="1.35" ry="1.75" fill="none" stroke="#7cb652" stroke-width="0.9"/>
<ellipse cx="22.9" cy="194.9" rx="1.35" ry="1.75" fill="none" stroke="#7cb652" stroke-width="0.9"/>
<path d="M21.599999999999998,182.4 L24.2,182.4 L22.9,184.5 Z" fill="#222"/>
<circle cx="22.9" cy="183.0" r="1.6" fill="none" stroke="#7cb652" stroke-width="0.8"/>
<path d="M21.599999999999998,265.1 L24.2,265.1 L22.9,263.0 Z" fill="#222"/>
<circle cx="22.9" cy="234.8" r="1.05" fill="#111"/>
<line x1="49.300000000000004" y1="180.4" x2="49.300000000000004" y2="207.3" stroke="#2e2e2e" stroke-width="1.1" stroke-dasharray="3.8 2.7" stroke-dashoffset="-1.5"/>
<rect x="45.800000000000004" y="189.6" width="7.0" height="7.5" fill="#eebcbc" stroke="#d45e5e" stroke-width="0.85"/>
<rect x="48.00000000000001" y="190.79999999999998" width="2.6" height="5.1" fill="#f8e0e0"/>
<line x1="49.300000000000004" y1="191.1" x2="49.300000000000004" y2="196.1" stroke="#6e5656" stroke-width="1.3" stroke-dasharray="4.2 3.2" opacity="0.75"/>
<circle cx="49.300000000000004" cy="181.5" r="1.4" fill="#b82020" stroke="#333" stroke-width="0.4"/>
<circle cx="49.300000000000004" cy="184" r="1.4" fill="#b82020" stroke="#333" stroke-width="0.4"/>
<circle cx="49.300000000000004" cy="186.5" r="1.4" fill="#b82020" stroke="#333" stroke-width="0.4"/>
<circle cx="49.300000000000004" cy="189" r="1.4" fill="#b82020" stroke="#333" stroke-width="0.4"/>
<circle cx="49.300000000000004" cy="204.5" r="1.4" fill="#b82020" stroke="#333" stroke-width="0.4"/>
<circle cx="49.300000000000004" cy="207" r="1.4" fill="#b82020" stroke="#333" stroke-width="0.4"/>
<ellipse cx="49.300000000000004" cy="263.5" rx="1.75" ry="2.1" fill="#b82020"/>
<path d="M48.00000000000001,179.5 L50.6,179.5 L49.300000000000004,181.6 Z" fill="#222"/>
<circle cx="49.300000000000004" cy="180.1" r="1.6" fill="none" stroke="#d45e5e" stroke-width="0.8"/>
<path d="M48.00000000000001,207.9 L50.6,207.9 L49.300000000000004,205.8 Z" fill="#222"/>
<circle cx="49.300000000000004" cy="201.2" r="1.05" fill="#111"/>
<line x1="70.60000000000001" y1="184" x2="70.60000000000001" y2="264.6" stroke="#2e2e2e" stroke-width="1.1" stroke-dasharray="3.8 2.7" stroke-dashoffset="-1.5"/>
<rect x="67.10000000000001" y="197.9" width="7.0" height="66.70000000000002" fill="#d6ebc6" stroke="#7cb652" stroke-width="0.85"/>
<rect x="69.30000000000001" y="199.1" width="2.6" height="64.30000000000001" fill="#eef6e6"/>
<line x1="70.60000000000001" y1="199.4" x2="70.60000000000001" y2="263.6" stroke="#6e5656" stroke-width="1.3" stroke-dasharray="4.2 3.2" opacity="0.75"/>
<ellipse cx="70.60000000000001" cy="189.8" rx="1.35" ry="1.75" fill="none" stroke="#7cb652" stroke-width="0.9"/>
<ellipse cx="70.60000000000001" cy="194.9" rx="1.35" ry="1.75" fill="none" stroke="#7cb652" stroke-width="0.9"/>
<path d="M69.30000000000001,183.1 L71.9,183.1 L70.60000000000001,185.2 Z" fill="#222"/>
<circle cx="70.60000000000001" cy="183.7" r="1.6" fill="none" stroke="#7cb652" stroke-width="0.8"/>
<path d="M69.30000000000001,265.20000000000005 L71.9,265.20000000000005 L70.60000000000001,263.1 Z" fill="#222"/>
<circle cx="70.60000000000001" cy="235.1" r="1.05" fill="#111"/>
<line x1="90.10000000000001" y1="185.5" x2="90.10000000000001" y2="207.3" stroke="#2e2e2e" stroke-width="1.1" stroke-dasharray="3.8 2.7" stroke-dashoffset="-1.5"/>
<rect x="86.60000000000001" y="189.6" width="7.0" height="9.700000000000017" fill="#f6cccc" stroke="#ee8282" stroke-width="0.85"/>
<rect x="88.80000000000001" y="190.79999999999998" width="2.6" height="7.300000000000017" fill="#fbe8e8"/>
<line x1="90.10000000000001" y1="191.1" x2="90.10000000000001" y2="198.3" stroke="#6e5656" stroke-width="1.3" stroke-dasharray="4.2 3.2" opacity="0.75"/>
<circle cx="90.10000000000001" cy="194.9" r="1.4" fill="#e03c3c" stroke="#333" stroke-width="0.4"/>
<circle cx="90.10000000000001" cy="205.1" r="1.4" fill="#e03c3c" stroke="#333" stroke-width="0.4"/>
<ellipse cx="90.10000000000001" cy="261.1" rx="1.3" ry="1.8" fill="none" stroke="#e03c3c" stroke-width="1.05"/>
<path d="M88.80000000000001,184.6 L91.4,184.6 L90.10000000000001,186.7 Z" fill="#222"/>
<circle cx="90.10000000000001" cy="185.2" r="1.6" fill="none" stroke="#ee8282" stroke-width="0.8"/>
<path d="M88.80000000000001,207.9 L91.4,207.9 L90.10000000000001,205.8 Z" fill="#222"/>
<circle cx="90.10000000000001" cy="200.6" r="1.05" fill="#111"/>
<line x1="109.60000000000001" y1="184" x2="109.60000000000001" y2="264.6" stroke="#2e2e2e" stroke-width="1.1" stroke-dasharray="3.8 2.7" stroke-dashoffset="-1.5"/>
<rect x="106.10000000000001" y="189.8" width="7.0" height="74.80000000000001" fill="#f8d2c0" stroke="#f08c64" stroke-width="0.85"/>
<rect x="108.30000000000001" y="191.0" width="2.6" height="72.4" fill="#fdeae2"/>
<line x1="109.60000000000001" y1="191.3" x2="109.60000000000001" y2="263.6" stroke="#6e5656" stroke-width="1.3" stroke-dasharray="4.2 3.2" opacity="0.75"/>
<path d="M108.30000000000001,183.1 L110.9,183.1 L109.60000000000001,185.2 Z" fill="#222"/>
<circle cx="109.60000000000001" cy="183.7" r="1.6" fill="none" stroke="#f08c64" stroke-width="0.8"/>
<path d="M108.30000000000001,265.20000000000005 L110.9,265.20000000000005 L109.60000000000001,263.1 Z" fill="#222"/>
<circle cx="109.60000000000001" cy="216.3" r="1.05" fill="#111"/>
<line x1="129.10000000000002" y1="179.6" x2="129.10000000000002" y2="195" stroke="#2e2e2e" stroke-width="1.1" stroke-dasharray="3.8 2.7" stroke-dashoffset="-1.5"/>
<rect x="125.60000000000002" y="188.4" width="7.0" height="5.099999999999994" fill="#fbe3ae" stroke="#f2ba48" stroke-width="0.85"/>
<rect x="127.80000000000003" y="189.6" width="2.6" height="2.6999999999999944" fill="#fef3da"/>
<line x1="129.10000000000002" y1="189.9" x2="129.10000000000002" y2="192.5" stroke="#6e5656" stroke-width="1.3" stroke-dasharray="4.2 3.2" opacity="0.75"/>
<ellipse cx="129.10000000000002" cy="207" rx="1.75" ry="2.1" fill="#eea612"/>
<path d="M127.80000000000003,178.7 L130.40000000000003,178.7 L129.10000000000002,180.79999999999998 Z" fill="#222"/>
<circle cx="129.10000000000002" cy="179.29999999999998" r="1.6" fill="none" stroke="#f2ba48" stroke-width="0.8"/>
<path d="M127.80000000000003,195.6 L130.40000000000003,195.6 L129.10000000000002,193.5 Z" fill="#222"/>
<circle cx="129.10000000000002" cy="191.3" r="1.05" fill="#111"/>
<line x1="22.9" y1="234.8" x2="45.47" y2="206.08" stroke="#a83030" stroke-width="0.9"/>
<path d="M48.31,202.46 L47.12,207.37 L43.82,204.78 Z" fill="#a83030"/>
<line x1="70.60000000000001" y1="235.1" x2="87.05" y2="206.00" stroke="#f07070" stroke-width="0.9"/>
<path d="M89.31,201.99 L88.88,207.03 L85.22,204.96 Z" fill="#f07070"/>
<line x1="70.60000000000001" y1="235.1" x2="104.02" y2="218.99" stroke="#ef7a48" stroke-width="0.9"/>
<path d="M108.16,216.99 L104.93,220.88 L103.10,217.10 Z" fill="#ef7a48"/>
<line x1="70.60000000000001" y1="235.1" x2="124.14" y2="195.02" stroke="#f4b234" stroke-width="0.9"/>
<path d="M127.82,192.26 L125.40,196.70 L122.88,193.33 Z" fill="#f4b234"/>
<circle cx="22.9" cy="234.8" r="1.05" fill="#111"/>
<circle cx="49.300000000000004" cy="201.2" r="1.05" fill="#111"/>
<circle cx="70.60000000000001" cy="235.1" r="1.05" fill="#111"/>
<circle cx="90.10000000000001" cy="200.6" r="1.05" fill="#111"/>
<circle cx="109.60000000000001" cy="216.3" r="1.05" fill="#111"/>
<circle cx="129.10000000000002" cy="191.3" r="1.05" fill="#111"/>
<line x1="155.3" y1="173.0" x2="155.3" y2="276.0" stroke="#555" stroke-width="0.9"/>
<line x1="155.3" y1="276.0" x2="197.0" y2="276.0" stroke="#555" stroke-width="0.9"/>
<line x1="155.3" y1="276.0" x2="156.5" y2="276.0" stroke="#888" stroke-width="0.6"/>
<text transform="translate(154.0,278.75) scale(0.8,1)" text-anchor="end" class="tky">5</text>
<line x1="155.3" y1="241.9" x2="156.5" y2="241.9" stroke="#888" stroke-width="0.6"/>
<text transform="translate(154.0,244.65) scale(0.8,1)" text-anchor="end" class="tky">10</text>
<line x1="155.3" y1="207.8" x2="156.5" y2="207.8" stroke="#888" stroke-width="0.6"/>
<text transform="translate(154.0,210.55) scale(0.8,1)" text-anchor="end" class="tky">15</text>
<line x1="155.3" y1="173.7" x2="156.5" y2="173.7" stroke="#888" stroke-width="0.6"/>
<text transform="translate(154.0,176.45) scale(0.8,1)" text-anchor="end" class="tky">20</text>
<line x1="163.10000000000002" y1="276.0" x2="163.10000000000002" y2="274.8" stroke="#888" stroke-width="0.6"/>
<text x="164.70000000000002" y="283.8" text-anchor="middle" class="tk">pre</text>
<line x1="189.5" y1="276.0" x2="189.5" y2="274.8" stroke="#888" stroke-width="0.6"/>
<text x="191.1" y="283.8" text-anchor="middle" class="tk">post</text>
<line x1="176.3" y1="276.0" x2="176.3" y2="274.8" stroke="#888" stroke-width="0.6"/>
<line x1="204.8" y1="173.0" x2="204.8" y2="276.0" stroke="#555" stroke-width="0.9"/>
<line x1="204.8" y1="276.0" x2="274.6" y2="276.0" stroke="#555" stroke-width="0.9"/>
<line x1="204.8" y1="276.0" x2="206.0" y2="276.0" stroke="#888" stroke-width="0.6"/>
<line x1="204.8" y1="241.9" x2="206.0" y2="241.9" stroke="#888" stroke-width="0.6"/>
<line x1="204.8" y1="207.8" x2="206.0" y2="207.8" stroke="#888" stroke-width="0.6"/>
<line x1="204.8" y1="173.7" x2="206.0" y2="173.7" stroke="#888" stroke-width="0.6"/>
<line x1="210.70000000000002" y1="276.0" x2="210.70000000000002" y2="274.8" stroke="#888" stroke-width="0.6"/>
<text x="211.3" y="283.8" text-anchor="middle" class="tk">t0</text>
<line x1="230.20000000000002" y1="276.0" x2="230.20000000000002" y2="274.8" stroke="#888" stroke-width="0.6"/>
<text x="230.8" y="283.8" text-anchor="middle" class="tk">t1</text>
<line x1="249.70000000000002" y1="276.0" x2="249.70000000000002" y2="274.8" stroke="#888" stroke-width="0.6"/>
<text x="250.3" y="283.8" text-anchor="middle" class="tk">t2</text>
<line x1="269.20000000000005" y1="276.0" x2="269.20000000000005" y2="274.8" stroke="#888" stroke-width="0.6"/>
<text x="269.80000000000007" y="283.8" text-anchor="middle" class="tk">t3</text>
<text x="180" y="164.8" class="ct">Compound 22</text>
<line x1="163.10000000000002" y1="183.4" x2="163.10000000000002" y2="205.8" stroke="#2e2e2e" stroke-width="1.1" stroke-dasharray="3.8 2.7" stroke-dashoffset="-1.5"/>
<rect x="159.60000000000002" y="188.7" width="7.0" height="12.200000000000017" fill="#d6ebc6" stroke="#7cb652" stroke-width="0.85"/>
<rect x="161.8" y="189.89999999999998" width="2.6" height="9.800000000000017" fill="#eef6e6"/>
<line x1="163.10000000000002" y1="190.2" x2="163.10000000000002" y2="199.9" stroke="#6e5656" stroke-width="1.3" stroke-dasharray="4.2 3.2" opacity="0.75"/>
<ellipse cx="163.10000000000002" cy="271.2" rx="1.75" ry="2.1" fill="#5a9e2c"/>
<path d="M161.8,182.5 L164.40000000000003,182.5 L163.10000000000002,184.6 Z" fill="#222"/>
<circle cx="163.10000000000002" cy="183.1" r="1.6" fill="none" stroke="#7cb652" stroke-width="0.8"/>
<path d="M161.8,206.4 L164.40000000000003,206.4 L163.10000000000002,204.3 Z" fill="#222"/>
<circle cx="163.10000000000002" cy="199.6" r="1.05" fill="#111"/>
<line x1="189.5" y1="178.6" x2="189.5" y2="200.9" stroke="#2e2e2e" stroke-width="1.1" stroke-dasharray="3.8 2.7" stroke-dashoffset="-1.5"/>
<rect x="186.0" y="183.4" width="7.0" height="6.799999999999983" fill="#eebcbc" stroke="#d45e5e" stroke-width="0.85"/>
<rect x="188.2" y="184.6" width="2.6" height="4.399999999999983" fill="#f8e0e0"/>
<line x1="189.5" y1="184.9" x2="189.5" y2="189.2" stroke="#6e5656" stroke-width="1.3" stroke-dasharray="4.2 3.2" opacity="0.75"/>
<ellipse cx="189.5" cy="199.5" rx="1.35" ry="1.75" fill="none" stroke="#d45e5e" stroke-width="0.9"/>
<circle cx="189.5" cy="180" r="1.4" fill="#b82020" stroke="#333" stroke-width="0.4"/>
<circle cx="189.5" cy="182" r="1.4" fill="#b82020" stroke="#333" stroke-width="0.4"/>
<circle cx="189.5" cy="192" r="1.4" fill="#b82020" stroke="#333" stroke-width="0.4"/>
<circle cx="189.5" cy="194.5" r="1.4" fill="#b82020" stroke="#333" stroke-width="0.4"/>
<circle cx="189.5" cy="197" r="1.4" fill="#b82020" stroke="#333" stroke-width="0.4"/>
<path d="M188.2,177.7 L190.8,177.7 L189.5,179.79999999999998 Z" fill="#222"/>
<circle cx="189.5" cy="178.29999999999998" r="1.6" fill="none" stroke="#d45e5e" stroke-width="0.8"/>
<path d="M188.2,201.5 L190.8,201.5 L189.5,199.4 Z" fill="#222"/>
<circle cx="189.5" cy="188.3" r="1.05" fill="#111"/>
<line x1="210.70000000000002" y1="184" x2="210.70000000000002" y2="203.8" stroke="#2e2e2e" stroke-width="1.1" stroke-dasharray="3.8 2.7" stroke-dashoffset="-1.5"/>
<rect x="207.20000000000002" y="187.9" width="7.0" height="13.0" fill="#d6ebc6" stroke="#7cb652" stroke-width="0.85"/>
<rect x="209.4" y="189.1" width="2.6" height="10.6" fill="#eef6e6"/>
<line x1="210.70000000000002" y1="189.4" x2="210.70000000000002" y2="199.9" stroke="#6e5656" stroke-width="1.3" stroke-dasharray="4.2 3.2" opacity="0.75"/>
<ellipse cx="210.70000000000002" cy="270.3" rx="1.75" ry="2.1" fill="#5a9e2c"/>
<path d="M209.4,183.1 L212.00000000000003,183.1 L210.70000000000002,185.2 Z" fill="#222"/>
<circle cx="210.70000000000002" cy="183.7" r="1.6" fill="none" stroke="#7cb652" stroke-width="0.8"/>
<path d="M209.4,204.4 L212.00000000000003,204.4 L210.70000000000002,202.3 Z" fill="#222"/>
<circle cx="210.70000000000002" cy="199" r="1.05" fill="#111"/>
<line x1="230.20000000000002" y1="178.2" x2="230.20000000000002" y2="198" stroke="#2e2e2e" stroke-width="1.1" stroke-dasharray="3.8 2.7" stroke-dashoffset="-1.5"/>
<rect x="226.70000000000002" y="183.4" width="7.0" height="8.799999999999983" fill="#f6cccc" stroke="#ee8282" stroke-width="0.85"/>
<rect x="228.9" y="184.6" width="2.6" height="6.399999999999983" fill="#fbe8e8"/>
<line x1="230.20000000000002" y1="184.9" x2="230.20000000000002" y2="191.2" stroke="#6e5656" stroke-width="1.3" stroke-dasharray="4.2 3.2" opacity="0.75"/>
<ellipse cx="230.20000000000002" cy="178.2" rx="1.35" ry="1.75" fill="none" stroke="#ee8282" stroke-width="0.9"/>
<ellipse cx="230.20000000000002" cy="268.7" rx="1.3" ry="1.8" fill="none" stroke="#e03c3c" stroke-width="1.05"/>
<path d="M228.9,177.29999999999998 L231.50000000000003,177.29999999999998 L230.20000000000002,179.39999999999998 Z" fill="#222"/>
<circle cx="230.20000000000002" cy="177.89999999999998" r="1.6" fill="none" stroke="#ee8282" stroke-width="0.8"/>
<path d="M228.9,198.6 L231.50000000000003,198.6 L230.20000000000002,196.5 Z" fill="#222"/>
<circle cx="230.20000000000002" cy="189.3" r="1.05" fill="#111"/>
<line x1="249.70000000000002" y1="180.5" x2="249.70000000000002" y2="200.9" stroke="#2e2e2e" stroke-width="1.1" stroke-dasharray="3.8 2.7" stroke-dashoffset="-1.5"/>
<rect x="246.20000000000002" y="186.4" width="7.0" height="5.799999999999983" fill="#f8d2c0" stroke="#f08c64" stroke-width="0.85"/>
<rect x="248.4" y="187.6" width="2.6" height="3.399999999999983" fill="#fdeae2"/>
<line x1="249.70000000000002" y1="187.9" x2="249.70000000000002" y2="191.2" stroke="#6e5656" stroke-width="1.3" stroke-dasharray="4.2 3.2" opacity="0.75"/>
<ellipse cx="249.70000000000002" cy="195.5" rx="1.35" ry="1.75" fill="none" stroke="#f08c64" stroke-width="0.9"/>
<ellipse cx="249.70000000000002" cy="199" rx="1.35" ry="1.75" fill="none" stroke="#f08c64" stroke-width="0.9"/>
<path d="M248.4,179.6 L251.00000000000003,179.6 L249.70000000000002,181.7 Z" fill="#222"/>
<circle cx="249.70000000000002" cy="180.2" r="1.6" fill="none" stroke="#f08c64" stroke-width="0.8"/>
<path d="M248.4,201.5 L251.00000000000003,201.5 L249.70000000000002,199.4 Z" fill="#222"/>
<circle cx="249.70000000000002" cy="189.9" r="1.05" fill="#111"/>
<line x1="269.20000000000005" y1="178.6" x2="269.20000000000005" y2="189.3" stroke="#2e2e2e" stroke-width="1.1" stroke-dasharray="3.8 2.7" stroke-dashoffset="-1.5"/>
<rect x="265.70000000000005" y="180.5" width="7.0" height="5.5" fill="#fbe3ae" stroke="#f2ba48" stroke-width="0.85"/>
<rect x="267.90000000000003" y="181.7" width="2.6" height="3.1" fill="#fef3da"/>
<line x1="269.20000000000005" y1="182.0" x2="269.20000000000005" y2="185" stroke="#6e5656" stroke-width="1.3" stroke-dasharray="4.2 3.2" opacity="0.75"/>
<ellipse cx="269.20000000000005" cy="270.3" rx="1.3" ry="1.8" fill="none" stroke="#eea612" stroke-width="1.05"/>
<path d="M267.90000000000003,177.7 L270.50000000000006,177.7 L269.20000000000005,179.79999999999998 Z" fill="#222"/>
<circle cx="269.20000000000005" cy="178.29999999999998" r="1.6" fill="none" stroke="#f2ba48" stroke-width="0.8"/>
<path d="M267.90000000000003,189.9 L270.50000000000006,189.9 L269.20000000000005,187.8 Z" fill="#222"/>
<circle cx="269.20000000000005" cy="183.4" r="1.05" fill="#111"/>
<line x1="163.10000000000002" y1="199.6" x2="183.80" y2="190.74" stroke="#a83030" stroke-width="0.9"/>
<path d="M188.03,188.93 L184.63,192.67 L182.97,188.81 Z" fill="#a83030"/>
<line x1="210.70000000000002" y1="199" x2="224.65" y2="192.06" stroke="#f07070" stroke-width="0.9"/>
<path d="M228.77,190.01 L225.58,193.94 L223.71,190.18 Z" fill="#f07070"/>
<line x1="210.70000000000002" y1="199" x2="243.66" y2="191.31" stroke="#ef7a48" stroke-width="0.9"/>
<path d="M248.14,190.26 L244.14,193.35 L243.19,189.26 Z" fill="#ef7a48"/>
<line x1="210.70000000000002" y1="199" x2="263.21" y2="185.00" stroke="#f4b234" stroke-width="0.9"/>
<path d="M267.65,183.81 L263.75,187.03 L262.67,182.97 Z" fill="#f4b234"/>
<circle cx="163.10000000000002" cy="199.6" r="1.05" fill="#111"/>
<circle cx="189.5" cy="188.3" r="1.05" fill="#111"/>
<circle cx="210.70000000000002" cy="199" r="1.05" fill="#111"/>
<circle cx="230.20000000000002" cy="189.3" r="1.05" fill="#111"/>
<circle cx="249.70000000000002" cy="189.9" r="1.05" fill="#111"/>
<circle cx="269.20000000000005" cy="183.4" r="1.05" fill="#111"/>
<line x1="309.2" y1="173.0" x2="309.2" y2="276.0" stroke="#555" stroke-width="0.9"/>
<line x1="309.2" y1="276.0" x2="351.0" y2="276.0" stroke="#555" stroke-width="0.9"/>
<line x1="309.2" y1="276.0" x2="310.4" y2="276.0" stroke="#888" stroke-width="0.6"/>
<text transform="translate(307.9,278.75) scale(0.8,1)" text-anchor="end" class="tky">4</text>
<line x1="309.2" y1="264.56" x2="310.4" y2="264.56" stroke="#888" stroke-width="0.6"/>
<text transform="translate(307.9,267.31) scale(0.8,1)" text-anchor="end" class="tky">6</text>
<line x1="309.2" y1="253.11" x2="310.4" y2="253.11" stroke="#888" stroke-width="0.6"/>
<text transform="translate(307.9,255.86) scale(0.8,1)" text-anchor="end" class="tky">8</text>
<line x1="309.2" y1="241.67" x2="310.4" y2="241.67" stroke="#888" stroke-width="0.6"/>
<text transform="translate(307.9,244.42) scale(0.8,1)" text-anchor="end" class="tky">10</text>
<line x1="309.2" y1="230.22" x2="310.4" y2="230.22" stroke="#888" stroke-width="0.6"/>
<text transform="translate(307.9,232.97) scale(0.8,1)" text-anchor="end" class="tky">12</text>
<line x1="309.2" y1="218.78" x2="310.4" y2="218.78" stroke="#888" stroke-width="0.6"/>
<text transform="translate(307.9,221.53) scale(0.8,1)" text-anchor="end" class="tky">14</text>
<line x1="309.2" y1="207.33" x2="310.4" y2="207.33" stroke="#888" stroke-width="0.6"/>
<text transform="translate(307.9,210.08) scale(0.8,1)" text-anchor="end" class="tky">16</text>
<line x1="309.2" y1="195.89" x2="310.4" y2="195.89" stroke="#888" stroke-width="0.6"/>
<text transform="translate(307.9,198.64) scale(0.8,1)" text-anchor="end" class="tky">18</text>
<line x1="309.2" y1="184.44" x2="310.4" y2="184.44" stroke="#888" stroke-width="0.6"/>
<text transform="translate(307.9,187.19) scale(0.8,1)" text-anchor="end" class="tky">20</text>
<line x1="309.2" y1="173.0" x2="310.4" y2="173.0" stroke="#888" stroke-width="0.6"/>
<text transform="translate(307.9,175.75) scale(0.8,1)" text-anchor="end" class="tky">22</text>
<line x1="317.0" y1="276.0" x2="317.0" y2="274.8" stroke="#888" stroke-width="0.6"/>
<text x="318.6" y="283.8" text-anchor="middle" class="tk">pre</text>
<line x1="343.4" y1="276.0" x2="343.4" y2="274.8" stroke="#888" stroke-width="0.6"/>
<text x="345.0" y="283.8" text-anchor="middle" class="tk">post</text>
<line x1="330.2" y1="276.0" x2="330.2" y2="274.8" stroke="#888" stroke-width="0.6"/>
<line x1="359.3" y1="173.0" x2="359.3" y2="276.0" stroke="#555" stroke-width="0.9"/>
<line x1="359.3" y1="276.0" x2="429.0" y2="276.0" stroke="#555" stroke-width="0.9"/>
<line x1="359.3" y1="276.0" x2="360.5" y2="276.0" stroke="#888" stroke-width="0.6"/>
<line x1="359.3" y1="264.56" x2="360.5" y2="264.56" stroke="#888" stroke-width="0.6"/>
<line x1="359.3" y1="253.11" x2="360.5" y2="253.11" stroke="#888" stroke-width="0.6"/>
<line x1="359.3" y1="241.67" x2="360.5" y2="241.67" stroke="#888" stroke-width="0.6"/>
<line x1="359.3" y1="230.22" x2="360.5" y2="230.22" stroke="#888" stroke-width="0.6"/>
<line x1="359.3" y1="218.78" x2="360.5" y2="218.78" stroke="#888" stroke-width="0.6"/>
<line x1="359.3" y1="207.33" x2="360.5" y2="207.33" stroke="#888" stroke-width="0.6"/>
<line x1="359.3" y1="195.89" x2="360.5" y2="195.89" stroke="#888" stroke-width="0.6"/>
<line x1="359.3" y1="184.44" x2="360.5" y2="184.44" stroke="#888" stroke-width="0.6"/>
<line x1="359.3" y1="173.0" x2="360.5" y2="173.0" stroke="#888" stroke-width="0.6"/>
<line x1="365.2" y1="276.0" x2="365.2" y2="274.8" stroke="#888" stroke-width="0.6"/>
<text x="365.8" y="283.8" text-anchor="middle" class="tk">t0</text>
<line x1="384.7" y1="276.0" x2="384.7" y2="274.8" stroke="#888" stroke-width="0.6"/>
<text x="385.3" y="283.8" text-anchor="middle" class="tk">t1</text>
<line x1="404.2" y1="276.0" x2="404.2" y2="274.8" stroke="#888" stroke-width="0.6"/>
<text x="404.8" y="283.8" text-anchor="middle" class="tk">t2</text>
<line x1="423.7" y1="276.0" x2="423.7" y2="274.8" stroke="#888" stroke-width="0.6"/>
<text x="424.3" y="283.8" text-anchor="middle" class="tk">t3</text>
<text x="334.8" y="164.8" class="ct">Compound 21</text>
<text x="299.5" y="221.3" transform="rotate(-90 299.5 221.3)" text-anchor="middle" class="yl">Log Intensity</text>
<line x1="317.0" y1="173.0" x2="317.0" y2="184.4" stroke="#2e2e2e" stroke-width="1.1" stroke-dasharray="3.8 2.7" stroke-dashoffset="-1.5"/>
<rect x="313.9" y="174.2" width="6.2" height="8.300000000000011" fill="#d6ebc6" stroke="#7cb652" stroke-width="0.85"/>
<rect x="315.7" y="175.39999999999998" width="2.6" height="5.900000000000011" fill="#eef6e6"/>
<line x1="317.0" y1="175.7" x2="317.0" y2="181.5" stroke="#6e5656" stroke-width="1.3" stroke-dasharray="4.2 3.2" opacity="0.75"/>
<ellipse cx="317.0" cy="176" rx="1.35" ry="1.75" fill="none" stroke="#7cb652" stroke-width="0.9"/>
<ellipse cx="317.0" cy="178.5" rx="1.35" ry="1.75" fill="none" stroke="#7cb652" stroke-width="0.9"/>
<ellipse cx="317.0" cy="181" rx="1.35" ry="1.75" fill="none" stroke="#7cb652" stroke-width="0.9"/>
<ellipse cx="317.0" cy="184.4" rx="1.35" ry="1.75" fill="none" stroke="#7cb652" stroke-width="0.9"/>
<ellipse cx="317.0" cy="270.8" rx="1.75" ry="2.1" fill="#5a9e2c"/>
<path d="M315.7,172.1 L318.3,172.1 L317.0,174.2 Z" fill="#222"/>
<circle cx="317.0" cy="172.7" r="1.6" fill="none" stroke="#7cb652" stroke-width="0.8"/>
<path d="M315.7,185.0 L318.3,185.0 L317.0,182.9 Z" fill="#222"/>
<circle cx="317.0" cy="189.9" r="1.05" fill="#111"/>
<line x1="343.4" y1="180.5" x2="343.4" y2="265.5" stroke="#2e2e2e" stroke-width="1.1" stroke-dasharray="3.8 2.7" stroke-dashoffset="-1.5"/>
<rect x="339.9" y="182.5" width="7.0" height="82.0" fill="#eebcbc" stroke="#d45e5e" stroke-width="0.85"/>
<rect x="342.09999999999997" y="183.7" width="2.6" height="79.6" fill="#f8e0e0"/>
<line x1="343.4" y1="184.0" x2="343.4" y2="263.5" stroke="#6e5656" stroke-width="1.3" stroke-dasharray="4.2 3.2" opacity="0.75"/>
<ellipse cx="343.4" cy="265.5" rx="1.3" ry="1.8" fill="none" stroke="#b82020" stroke-width="1.05"/>
<path d="M342.09999999999997,179.6 L344.7,179.6 L343.4,181.7 Z" fill="#222"/>
<circle cx="343.4" cy="180.2" r="1.6" fill="none" stroke="#d45e5e" stroke-width="0.8"/>
<path d="M342.09999999999997,266.1 L344.7,266.1 L343.4,264.0 Z" fill="#222"/>
<circle cx="343.4" cy="224.5" r="1.05" fill="#111"/>
<line x1="365.2" y1="171.8" x2="365.2" y2="184.4" stroke="#2e2e2e" stroke-width="1.1" stroke-dasharray="3.8 2.7" stroke-dashoffset="-1.5"/>
<rect x="362.09999999999997" y="173.8" width="6.2" height="8.699999999999989" fill="#d6ebc6" stroke="#7cb652" stroke-width="0.85"/>
<rect x="363.9" y="175.0" width="2.6" height="6.299999999999988" fill="#eef6e6"/>
<line x1="365.2" y1="175.3" x2="365.2" y2="181.5" stroke="#6e5656" stroke-width="1.3" stroke-dasharray="4.2 3.2" opacity="0.75"/>
<ellipse cx="365.2" cy="176" rx="1.35" ry="1.75" fill="none" stroke="#7cb652" stroke-width="0.9"/>
<ellipse cx="365.2" cy="178.5" rx="1.35" ry="1.75" fill="none" stroke="#7cb652" stroke-width="0.9"/>
<ellipse cx="365.2" cy="181" rx="1.35" ry="1.75" fill="none" stroke="#7cb652" stroke-width="0.9"/>
<ellipse cx="365.2" cy="184" rx="1.35" ry="1.75" fill="none" stroke="#7cb652" stroke-width="0.9"/>
<ellipse cx="365.2" cy="270.8" rx="1.75" ry="2.1" fill="#5a9e2c"/>
<path d="M363.9,170.9 L366.5,170.9 L365.2,173.0 Z" fill="#222"/>
<circle cx="365.2" cy="171.5" r="1.6" fill="none" stroke="#7cb652" stroke-width="0.8"/>
<path d="M363.9,185.0 L366.5,185.0 L365.2,182.9 Z" fill="#222"/>
<circle cx="365.2" cy="192.8" r="1.05" fill="#111"/>
<line x1="384.7" y1="174.7" x2="384.7" y2="271.8" stroke="#2e2e2e" stroke-width="1.1" stroke-dasharray="3.8 2.7" stroke-dashoffset="-1.5"/>
<rect x="381.2" y="178.2" width="7.0" height="93.60000000000002" fill="#f6cccc" stroke="#ee8282" stroke-width="0.85"/>
<rect x="383.4" y="179.39999999999998" width="2.6" height="91.20000000000002" fill="#fbe8e8"/>
<line x1="384.7" y1="179.7" x2="384.7" y2="270.8" stroke="#6e5656" stroke-width="1.3" stroke-dasharray="4.2 3.2" opacity="0.75"/>
<path d="M383.4,173.79999999999998 L386.0,173.79999999999998 L384.7,175.89999999999998 Z" fill="#222"/>
<circle cx="384.7" cy="174.39999999999998" r="1.6" fill="none" stroke="#ee8282" stroke-width="0.8"/>
<path d="M383.4,272.40000000000003 L386.0,272.40000000000003 L384.7,270.3 Z" fill="#222"/>
<circle cx="384.7" cy="229.3" r="1.05" fill="#111"/>
<line x1="404.2" y1="172.4" x2="404.2" y2="271.8" stroke="#2e2e2e" stroke-width="1.1" stroke-dasharray="3.8 2.7" stroke-dashoffset="-1.5"/>
<rect x="400.7" y="178.6" width="7.0" height="93.20000000000002" fill="#f8d2c0" stroke="#f08c64" stroke-width="0.85"/>
<rect x="402.9" y="179.79999999999998" width="2.6" height="90.80000000000001" fill="#fdeae2"/>
<line x1="404.2" y1="180.1" x2="404.2" y2="270.8" stroke="#6e5656" stroke-width="1.3" stroke-dasharray="4.2 3.2" opacity="0.75"/>
<path d="M402.9,171.5 L405.5,171.5 L404.2,173.6 Z" fill="#222"/>
<circle cx="404.2" cy="172.1" r="1.6" fill="none" stroke="#f08c64" stroke-width="0.8"/>
<path d="M402.9,272.40000000000003 L405.5,272.40000000000003 L404.2,270.3 Z" fill="#222"/>
<circle cx="404.2" cy="231.8" r="1.05" fill="#111"/>
<line x1="423.7" y1="172.8" x2="423.7" y2="271.8" stroke="#2e2e2e" stroke-width="1.1" stroke-dasharray="3.8 2.7" stroke-dashoffset="-1.5"/>
<rect x="420.2" y="177.6" width="7.0" height="94.20000000000002" fill="#fbe3ae" stroke="#f2ba48" stroke-width="0.85"/>
<rect x="422.4" y="178.79999999999998" width="2.6" height="91.80000000000001" fill="#fef3da"/>
<line x1="423.7" y1="179.1" x2="423.7" y2="270.8" stroke="#6e5656" stroke-width="1.3" stroke-dasharray="4.2 3.2" opacity="0.75"/>
<path d="M422.4,171.9 L425.0,171.9 L423.7,174.0 Z" fill="#222"/>
<circle cx="423.7" cy="172.5" r="1.6" fill="none" stroke="#f2ba48" stroke-width="0.8"/>
<path d="M422.4,272.40000000000003 L425.0,272.40000000000003 L423.7,270.3 Z" fill="#222"/>
<circle cx="423.7" cy="207.7" r="1.05" fill="#111"/>
<line x1="317.0" y1="189.9" x2="339.64" y2="219.57" stroke="#4d7d2d" stroke-width="0.9"/>
<path d="M342.43,223.23 L337.97,220.84 L341.31,218.30 Z" fill="#4d7d2d"/>
<line x1="365.2" y1="192.8" x2="381.78" y2="223.83" stroke="#4d7d2d" stroke-width="0.9"/>
<path d="M383.95,227.89 L379.93,224.82 L383.63,222.84 Z" fill="#4d7d2d"/>
<line x1="365.2" y1="192.8" x2="399.82" y2="227.42" stroke="#4d7d2d" stroke-width="0.9"/>
<path d="M403.07,230.67 L398.33,228.90 L401.30,225.93 Z" fill="#4d7d2d"/>
<line x1="365.2" y1="192.8" x2="417.69" y2="206.17" stroke="#4d7d2d" stroke-width="0.9"/>
<path d="M422.15,207.31 L417.17,208.20 L418.21,204.13 Z" fill="#4d7d2d"/>
<circle cx="317.0" cy="189.9" r="1.05" fill="#111"/>
<circle cx="343.4" cy="224.5" r="1.05" fill="#111"/>
<circle cx="365.2" cy="192.8" r="1.05" fill="#111"/>
<circle cx="384.7" cy="229.3" r="1.05" fill="#111"/>
<circle cx="404.2" cy="231.8" r="1.05" fill="#111"/>
<circle cx="423.7" cy="207.7" r="1.05" fill="#111"/>
<line x1="454.2" y1="173.0" x2="454.2" y2="276.0" stroke="#555" stroke-width="0.9"/>
<line x1="454.2" y1="276.0" x2="496.0" y2="276.0" stroke="#555" stroke-width="0.9"/>
<line x1="454.2" y1="275.7" x2="455.4" y2="275.7" stroke="#888" stroke-width="0.6"/>
<text transform="translate(452.9,278.45) scale(0.8,1)" text-anchor="end" class="tky">6</text>
<line x1="454.2" y1="264.23" x2="455.4" y2="264.23" stroke="#888" stroke-width="0.6"/>
<text transform="translate(452.9,266.98) scale(0.8,1)" text-anchor="end" class="tky">8</text>
<line x1="454.2" y1="252.77" x2="455.4" y2="252.77" stroke="#888" stroke-width="0.6"/>
<text transform="translate(452.9,255.52) scale(0.8,1)" text-anchor="end" class="tky">10</text>
<line x1="454.2" y1="241.3" x2="455.4" y2="241.3" stroke="#888" stroke-width="0.6"/>
<text transform="translate(452.9,244.05) scale(0.8,1)" text-anchor="end" class="tky">12</text>
<line x1="454.2" y1="229.83" x2="455.4" y2="229.83" stroke="#888" stroke-width="0.6"/>
<text transform="translate(452.9,232.58) scale(0.8,1)" text-anchor="end" class="tky">14</text>
<line x1="454.2" y1="218.37" x2="455.4" y2="218.37" stroke="#888" stroke-width="0.6"/>
<text transform="translate(452.9,221.12) scale(0.8,1)" text-anchor="end" class="tky">16</text>
<line x1="454.2" y1="206.9" x2="455.4" y2="206.9" stroke="#888" stroke-width="0.6"/>
<text transform="translate(452.9,209.65) scale(0.8,1)" text-anchor="end" class="tky">18</text>
<line x1="454.2" y1="195.43" x2="455.4" y2="195.43" stroke="#888" stroke-width="0.6"/>
<text transform="translate(452.9,198.18) scale(0.8,1)" text-anchor="end" class="tky">20</text>
<line x1="454.2" y1="183.97" x2="455.4" y2="183.97" stroke="#888" stroke-width="0.6"/>
<text transform="translate(452.9,186.72) scale(0.8,1)" text-anchor="end" class="tky">22</text>
<line x1="454.2" y1="172.5" x2="455.4" y2="172.5" stroke="#888" stroke-width="0.6"/>
<text transform="translate(452.9,175.25) scale(0.8,1)" text-anchor="end" class="tky">24</text>
<line x1="462.0" y1="276.0" x2="462.0" y2="274.8" stroke="#888" stroke-width="0.6"/>
<text x="463.6" y="283.8" text-anchor="middle" class="tk">pre</text>
<line x1="488.4" y1="276.0" x2="488.4" y2="274.8" stroke="#888" stroke-width="0.6"/>
<text x="490.0" y="283.8" text-anchor="middle" class="tk">post</text>
<line x1="475.2" y1="276.0" x2="475.2" y2="274.8" stroke="#888" stroke-width="0.6"/>
<line x1="502.9" y1="173.0" x2="502.9" y2="276.0" stroke="#555" stroke-width="0.9"/>
<line x1="502.9" y1="276.0" x2="573.0" y2="276.0" stroke="#555" stroke-width="0.9"/>
<line x1="502.9" y1="275.7" x2="504.09999999999997" y2="275.7" stroke="#888" stroke-width="0.6"/>
<line x1="502.9" y1="264.23" x2="504.09999999999997" y2="264.23" stroke="#888" stroke-width="0.6"/>
<line x1="502.9" y1="252.77" x2="504.09999999999997" y2="252.77" stroke="#888" stroke-width="0.6"/>
<line x1="502.9" y1="241.3" x2="504.09999999999997" y2="241.3" stroke="#888" stroke-width="0.6"/>
<line x1="502.9" y1="229.83" x2="504.09999999999997" y2="229.83" stroke="#888" stroke-width="0.6"/>
<line x1="502.9" y1="218.37" x2="504.09999999999997" y2="218.37" stroke="#888" stroke-width="0.6"/>
<line x1="502.9" y1="206.9" x2="504.09999999999997" y2="206.9" stroke="#888" stroke-width="0.6"/>
<line x1="502.9" y1="195.43" x2="504.09999999999997" y2="195.43" stroke="#888" stroke-width="0.6"/>
<line x1="502.9" y1="183.97" x2="504.09999999999997" y2="183.97" stroke="#888" stroke-width="0.6"/>
<line x1="502.9" y1="172.5" x2="504.09999999999997" y2="172.5" stroke="#888" stroke-width="0.6"/>
<line x1="508.79999999999995" y1="276.0" x2="508.79999999999995" y2="274.8" stroke="#888" stroke-width="0.6"/>
<text x="509.4" y="283.8" text-anchor="middle" class="tk">t0</text>
<line x1="528.3" y1="276.0" x2="528.3" y2="274.8" stroke="#888" stroke-width="0.6"/>
<text x="528.9" y="283.8" text-anchor="middle" class="tk">t1</text>
<line x1="547.8" y1="276.0" x2="547.8" y2="274.8" stroke="#888" stroke-width="0.6"/>
<text x="548.4" y="283.8" text-anchor="middle" class="tk">t2</text>
<line x1="567.3" y1="276.0" x2="567.3" y2="274.8" stroke="#888" stroke-width="0.6"/>
<text x="567.9" y="283.8" text-anchor="middle" class="tk">t3</text>
<text x="480" y="164.8" class="ct">Compound 25</text>
<line x1="462.0" y1="188.3" x2="462.0" y2="212.2" stroke="#2e2e2e" stroke-width="1.1" stroke-dasharray="3.8 2.7" stroke-dashoffset="-1.5"/>
<rect x="458.5" y="193.7" width="7.0" height="14.0" fill="#d6ebc6" stroke="#7cb652" stroke-width="0.85"/>
<rect x="460.7" y="194.89999999999998" width="2.6" height="11.6" fill="#eef6e6"/>
<line x1="462.0" y1="195.2" x2="462.0" y2="206.7" stroke="#6e5656" stroke-width="1.3" stroke-dasharray="4.2 3.2" opacity="0.75"/>
<ellipse cx="462.0" cy="212.2" rx="1.35" ry="1.75" fill="none" stroke="#7cb652" stroke-width="0.9"/>
<ellipse cx="462.0" cy="274.4" rx="1.75" ry="2.1" fill="#5a9e2c"/>
<path d="M460.7,187.4 L463.3,187.4 L462.0,189.5 Z" fill="#222"/>
<circle cx="462.0" cy="188.0" r="1.6" fill="none" stroke="#7cb652" stroke-width="0.8"/>
<path d="M460.7,212.79999999999998 L463.3,212.79999999999998 L462.0,210.7 Z" fill="#222"/>
<circle cx="462.0" cy="209.3" r="1.05" fill="#111"/>
<line x1="488.4" y1="175.1" x2="488.4" y2="274" stroke="#2e2e2e" stroke-width="1.1" stroke-dasharray="3.8 2.7" stroke-dashoffset="-1.5"/>
<rect x="484.9" y="195.1" width="7.0" height="77.9" fill="#eebcbc" stroke="#d45e5e" stroke-width="0.85"/>
<rect x="487.09999999999997" y="196.29999999999998" width="2.6" height="75.5" fill="#f8e0e0"/>
<line x1="488.4" y1="196.6" x2="488.4" y2="272" stroke="#6e5656" stroke-width="1.3" stroke-dasharray="4.2 3.2" opacity="0.75"/>
<ellipse cx="488.4" cy="175.5" rx="1.35" ry="1.75" fill="none" stroke="#d45e5e" stroke-width="0.9"/>
<ellipse cx="488.4" cy="180" rx="1.35" ry="1.75" fill="none" stroke="#d45e5e" stroke-width="0.9"/>
<ellipse cx="488.4" cy="183" rx="1.35" ry="1.75" fill="none" stroke="#d45e5e" stroke-width="0.9"/>
<ellipse cx="488.4" cy="186" rx="1.35" ry="1.75" fill="none" stroke="#d45e5e" stroke-width="0.9"/>
<ellipse cx="488.4" cy="189" rx="1.35" ry="1.75" fill="none" stroke="#d45e5e" stroke-width="0.9"/>
<ellipse cx="488.4" cy="192" rx="1.35" ry="1.75" fill="none" stroke="#d45e5e" stroke-width="0.9"/>
<ellipse cx="488.4" cy="197" rx="1.35" ry="1.75" fill="none" stroke="#d45e5e" stroke-width="0.9"/>
<ellipse cx="488.4" cy="201" rx="1.35" ry="1.75" fill="none" stroke="#d45e5e" stroke-width="0.9"/>
<ellipse cx="488.4" cy="205" rx="1.35" ry="1.75" fill="none" stroke="#d45e5e" stroke-width="0.9"/>
<ellipse cx="488.4" cy="274" rx="1.3" ry="1.8" fill="none" stroke="#b82020" stroke-width="1.05"/>
<path d="M487.09999999999997,174.2 L489.7,174.2 L488.4,176.29999999999998 Z" fill="#222"/>
<circle cx="488.4" cy="174.79999999999998" r="1.6" fill="none" stroke="#d45e5e" stroke-width="0.8"/>
<path d="M487.09999999999997,274.6 L489.7,274.6 L488.4,272.5 Z" fill="#222"/>
<circle cx="488.4" cy="230.2" r="1.05" fill="#111"/>
<line x1="508.79999999999995" y1="190.2" x2="508.79999999999995" y2="214.5" stroke="#2e2e2e" stroke-width="1.1" stroke-dasharray="3.8 2.7" stroke-dashoffset="-1.5"/>
<rect x="505.29999999999995" y="195.1" width="7.0" height="15.5" fill="#d6ebc6" stroke="#7cb652" stroke-width="0.85"/>
<rect x="507.49999999999994" y="196.29999999999998" width="2.6" height="13.1" fill="#eef6e6"/>
<line x1="508.79999999999995" y1="196.6" x2="508.79999999999995" y2="209.6" stroke="#6e5656" stroke-width="1.3" stroke-dasharray="4.2 3.2" opacity="0.75"/>
<ellipse cx="508.79999999999995" cy="214.5" rx="1.35" ry="1.75" fill="none" stroke="#7cb652" stroke-width="0.9"/>
<ellipse cx="508.79999999999995" cy="269.6" rx="1.75" ry="2.1" fill="#5a9e2c"/>
<path d="M507.49999999999994,189.29999999999998 L510.09999999999997,189.29999999999998 L508.79999999999995,191.39999999999998 Z" fill="#222"/>
<circle cx="508.79999999999995" cy="189.89999999999998" r="1.6" fill="none" stroke="#7cb652" stroke-width="0.8"/>
<path d="M507.49999999999994,215.1 L510.09999999999997,215.1 L508.79999999999995,213.0 Z" fill="#222"/>
<circle cx="508.79999999999995" cy="211.2" r="1.05" fill="#111"/>
<line x1="528.3" y1="180.1" x2="528.3" y2="270" stroke="#2e2e2e" stroke-width="1.1" stroke-dasharray="3.8 2.7" stroke-dashoffset="-1.5"/>
<rect x="524.8" y="199" width="7.0" height="71" fill="#f6cccc" stroke="#ee8282" stroke-width="0.85"/>
<rect x="527.0" y="200.2" width="2.6" height="68.6" fill="#fbe8e8"/>
<line x1="528.3" y1="200.5" x2="528.3" y2="269" stroke="#6e5656" stroke-width="1.3" stroke-dasharray="4.2 3.2" opacity="0.75"/>
<ellipse cx="528.3" cy="193.2" rx="1.35" ry="1.75" fill="none" stroke="#ee8282" stroke-width="0.9"/>
<ellipse cx="528.3" cy="202" rx="1.35" ry="1.75" fill="none" stroke="#ee8282" stroke-width="0.9"/>
<ellipse cx="528.3" cy="206" rx="1.35" ry="1.75" fill="none" stroke="#ee8282" stroke-width="0.9"/>
<path d="M527.0,179.2 L529.5999999999999,179.2 L528.3,181.29999999999998 Z" fill="#222"/>
<circle cx="528.3" cy="179.79999999999998" r="1.6" fill="none" stroke="#ee8282" stroke-width="0.8"/>
<path d="M527.0,270.6 L529.5999999999999,270.6 L528.3,268.5 Z" fill="#222"/>
<circle cx="528.3" cy="224" r="1.05" fill="#111"/>
<line x1="547.8" y1="189.3" x2="547.8" y2="270" stroke="#2e2e2e" stroke-width="1.1" stroke-dasharray="3.8 2.7" stroke-dashoffset="-1.5"/>
<rect x="544.3" y="203.8" width="7.0" height="66.19999999999999" fill="#f8d2c0" stroke="#f08c64" stroke-width="0.85"/>
<rect x="546.5" y="205.0" width="2.6" height="63.79999999999999" fill="#fdeae2"/>
<line x1="547.8" y1="205.3" x2="547.8" y2="269" stroke="#6e5656" stroke-width="1.3" stroke-dasharray="4.2 3.2" opacity="0.75"/>
<ellipse cx="547.8" cy="192" rx="1.35" ry="1.75" fill="none" stroke="#f08c64" stroke-width="0.9"/>
<ellipse cx="547.8" cy="195.1" rx="1.35" ry="1.75" fill="none" stroke="#f08c64" stroke-width="0.9"/>
<ellipse cx="547.8" cy="211" rx="1.35" ry="1.75" fill="none" stroke="#f08c64" stroke-width="0.9"/>
<ellipse cx="547.8" cy="216" rx="1.35" ry="1.75" fill="none" stroke="#f08c64" stroke-width="0.9"/>
<path d="M546.5,188.4 L549.0999999999999,188.4 L547.8,190.5 Z" fill="#222"/>
<circle cx="547.8" cy="189.0" r="1.6" fill="none" stroke="#f08c64" stroke-width="0.8"/>
<path d="M546.5,270.6 L549.0999999999999,270.6 L547.8,268.5 Z" fill="#222"/>
<circle cx="547.8" cy="236" r="1.05" fill="#111"/>
<line x1="567.3" y1="200" x2="567.3" y2="270" stroke="#2e2e2e" stroke-width="1.1" stroke-dasharray="3.8 2.7" stroke-dashoffset="-1.5"/>
<rect x="563.8" y="206.7" width="7.0" height="63.30000000000001" fill="#fbe3ae" stroke="#f2ba48" stroke-width="0.85"/>
<rect x="566.0" y="207.89999999999998" width="2.6" height="60.90000000000001" fill="#fef3da"/>
<line x1="567.3" y1="208.2" x2="567.3" y2="269" stroke="#6e5656" stroke-width="1.3" stroke-dasharray="4.2 3.2" opacity="0.75"/>
<path d="M566.0,199.1 L568.5999999999999,199.1 L567.3,201.2 Z" fill="#222"/>
<circle cx="567.3" cy="199.7" r="1.6" fill="none" stroke="#f2ba48" stroke-width="0.8"/>
<path d="M566.0,270.6 L568.5999999999999,270.6 L567.3,268.5 Z" fill="#222"/>
<circle cx="567.3" cy="234.3" r="1.05" fill="#111"/>
<line x1="462.0" y1="209.3" x2="483.54" y2="226.35" stroke="#4d7d2d" stroke-width="0.9"/>
<path d="M487.15,229.21 L482.24,228.00 L484.84,224.71 Z" fill="#4d7d2d"/>
<line x1="508.79999999999995" y1="211.2" x2="523.12" y2="220.60" stroke="#4d7d2d" stroke-width="0.9"/>
<path d="M526.96,223.12 L521.96,222.35 L524.27,218.84 Z" fill="#4d7d2d"/>
<line x1="508.79999999999995" y1="211.2" x2="542.57" y2="232.67" stroke="#4d7d2d" stroke-width="0.9"/>
<path d="M546.45,235.14 L541.44,234.45 L543.70,230.90 Z" fill="#4d7d2d"/>
<line x1="508.79999999999995" y1="211.2" x2="561.53" y2="232.02" stroke="#4d7d2d" stroke-width="0.9"/>
<path d="M565.81,233.71 L560.76,233.98 L562.30,230.07 Z" fill="#4d7d2d"/>
<circle cx="462.0" cy="209.3" r="1.05" fill="#111"/>
<circle cx="488.4" cy="230.2" r="1.05" fill="#111"/>
<circle cx="508.79999999999995" cy="211.2" r="1.05" fill="#111"/>
<circle cx="528.3" cy="224" r="1.05" fill="#111"/>
<circle cx="547.8" cy="236" r="1.05" fill="#111"/>
<circle cx="567.3" cy="234.3" r="1.05" fill="#111"/>
<text x="15.4" y="9.1" class="mt">a) Post up-regulated markers</text>
<text x="305.2" y="9.1" class="mt">b) Post down-regulated markers</text>
<rect x="40" y="293.4" width="515.2" height="13.9" fill="#fff" stroke="#555" stroke-width="0.9"/>
<line x1="70.3" y1="300.5" x2="82.5" y2="300.5" stroke="#222" stroke-width="0.8" stroke-dasharray="2.2 1.8"/>
<text x="85.6" y="301.9" class="lg">Data Range (Robust)</text>
<rect x="150.4" y="297.3" width="8" height="5.8" fill="#f5c8c8" stroke="#d84a4a" stroke-width="0.8"/>
<rect x="152.4" y="298.6" width="4" height="3.2" fill="#fff"/>
<rect x="158.4" y="297.3" width="8" height="5.8" fill="#d9edc8" stroke="#6aae3c" stroke-width="0.8"/>
<rect x="160.4" y="298.6" width="4" height="3.2" fill="#fff"/>
<text x="170.6" y="301.9" class="lg">Interquartile Range</text>
<line x1="233.1" y1="298.2" x2="246.8" y2="298.2" stroke="#d84a4a" stroke-width="0.8"/>
<line x1="233.1" y1="302.1" x2="246.8" y2="302.1" stroke="#6aae3c" stroke-width="0.8"/>
<text x="252.1" y="301.9" class="lg">Median</text>
<circle cx="297.5" cy="301.5" r="1.5" fill="#111"/>
<text x="304.8" y="301.9" class="lg">Mean</text>
<ellipse cx="335.5" cy="300.9" rx="1.8" ry="2.3" fill="none" stroke="#e06060" stroke-width="0.8"/>
<ellipse cx="342.8" cy="300.9" rx="1.8" ry="2.3" fill="none" stroke="#70b040" stroke-width="0.8"/>
<text x="351.1" y="301.9" class="lg">Sample values</text>
<ellipse cx="406.1" cy="300.9" rx="2.0" ry="2.5" fill="none" stroke="#c02020" stroke-width="1.1"/>
<ellipse cx="412.8" cy="300.9" rx="2.0" ry="2.5" fill="none" stroke="#5aa02a" stroke-width="1.1"/>
<text x="419.8" y="301.9" class="lg">Outliers</text>
<circle cx="460.9" cy="300.8" r="2" fill="#c02020"/>
<circle cx="469.4" cy="300.8" r="2" fill="#5aa02a"/>
<text x="476" y="301.9" class="lg">Extreme Outliers</text>
</svg></body></html>
